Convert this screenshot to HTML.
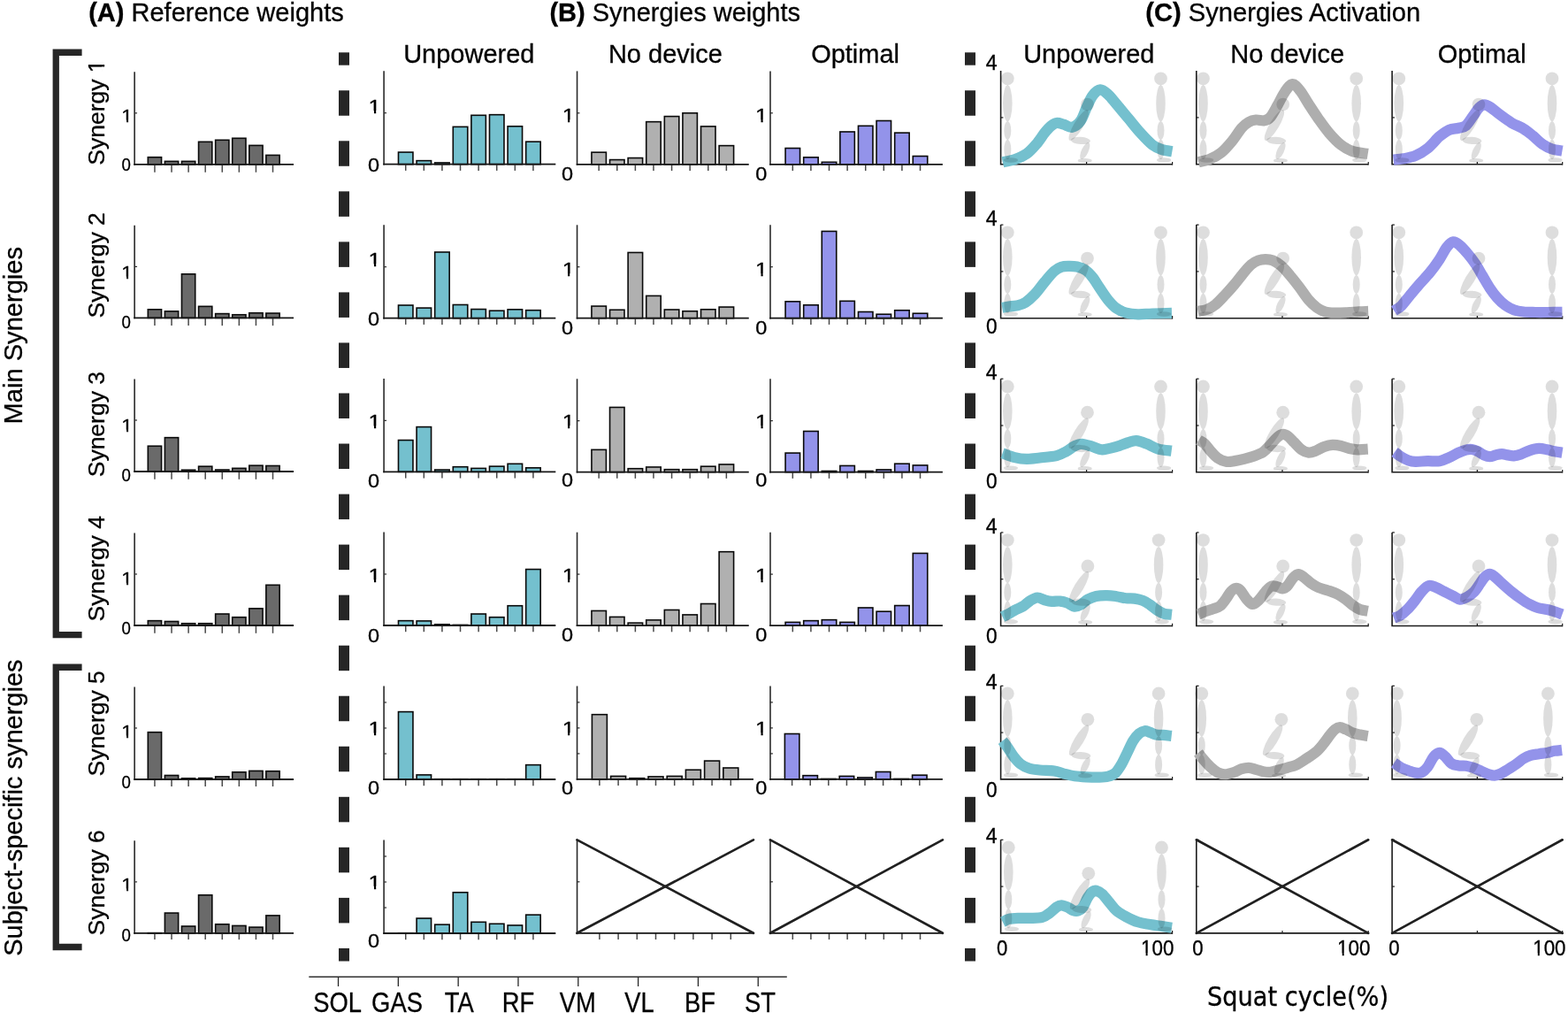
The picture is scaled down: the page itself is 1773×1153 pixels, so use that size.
<!DOCTYPE html>
<html lang="en">
<head>
<meta charset="utf-8">
<title>Synergies weights and activation</title>
<style>
html, body { margin: 0; padding: 0; background: #ffffff; }
body { width: 1773px; height: 1153px; overflow: hidden; }
svg { display: block; font-family: "Liberation Sans", sans-serif; fill: #000; }
text { stroke: #000; stroke-width: 0.3px; }
</style>
</head>
<body>
<svg width="1773" height="1153" viewBox="0 0 1773 1153">
<rect width="1773" height="1153" fill="#ffffff"/>
<text x="100.2" y="23.9" font-size="29.0"><tspan font-weight="bold">(A)</tspan> Reference weights</text>
<text x="621.4" y="23.9" font-size="29.0"><tspan font-weight="bold">(B)</tspan> Synergies weights</text>
<text x="1295.3" y="23.9" font-size="29.15"><tspan font-weight="bold">(C)</tspan> Synergies Activation</text>
<text x="530.3" y="71" font-size="29" text-anchor="middle" font-weight="normal" >Unpowered</text>
<text x="752.4" y="71" font-size="29" text-anchor="middle" font-weight="normal" >No device</text>
<text x="967.1" y="71" font-size="29" text-anchor="middle" font-weight="normal" >Optimal</text>
<text x="1231.3" y="71" font-size="29" text-anchor="middle" font-weight="normal" >Unpowered</text>
<text x="1455.7" y="71" font-size="29" text-anchor="middle" font-weight="normal" >No device</text>
<text x="1675.7" y="71" font-size="29" text-anchor="middle" font-weight="normal" >Optimal</text>
<path d="M92.6 55.5 H59.6 V721.3 H92.6 V713.9 H66.9 V62.9 H92.6 Z" fill="#262626"/>
<path d="M92.6 750.6 H59.6 V1074.2 H92.6 V1066.8 H66.9 V758 H92.6 Z" fill="#262626"/>
<text transform="translate(24.8 379.2) rotate(-90)" font-size="29.1" text-anchor="middle">Main Synergies</text>
<text transform="translate(24.9 913.1) rotate(-90)" font-size="29" text-anchor="middle">Subject-specific synergies</text>
<g transform="translate(118.2 186.7) rotate(-90)"><text font-size="26.5">Synergy <tspan x="104.57">1</tspan></text><g transform="translate(104.57 0)"><rect x="0.53" y="-2.98" width="6.13" height="5.58" fill="#fff"/><rect x="9.01" y="-2.98" width="5.56" height="5.58" fill="#fff"/></g></g>
<text transform="translate(118.2 359.5) rotate(-90)" font-size="26.5">Synergy 2</text>
<text transform="translate(118.2 539.3) rotate(-90)" font-size="26.5">Synergy 3</text>
<text transform="translate(118.2 702.4) rotate(-90)" font-size="26.5">Synergy 4</text>
<text transform="translate(118.2 877.5) rotate(-90)" font-size="26.5">Synergy 5</text>
<text transform="translate(118.2 1057.5) rotate(-90)" font-size="26.5">Synergy 6</text>
<rect x="383" y="59.3" width="12" height="14.4" fill="#262626"/>
<rect x="383" y="102.25" width="12" height="28.5" fill="#262626"/>
<rect x="383" y="159.29" width="12" height="28.5" fill="#262626"/>
<rect x="383" y="216.33" width="12" height="28.5" fill="#262626"/>
<rect x="383" y="273.37" width="12" height="28.5" fill="#262626"/>
<rect x="383" y="330.41" width="12" height="28.5" fill="#262626"/>
<rect x="383" y="387.45" width="12" height="28.5" fill="#262626"/>
<rect x="383" y="444.49" width="12" height="28.5" fill="#262626"/>
<rect x="383" y="501.53" width="12" height="28.5" fill="#262626"/>
<rect x="383" y="558.57" width="12" height="28.5" fill="#262626"/>
<rect x="383" y="615.61" width="12" height="28.5" fill="#262626"/>
<rect x="383" y="672.65" width="12" height="28.5" fill="#262626"/>
<rect x="383" y="729.69" width="12" height="28.5" fill="#262626"/>
<rect x="383" y="786.73" width="12" height="28.5" fill="#262626"/>
<rect x="383" y="843.77" width="12" height="28.5" fill="#262626"/>
<rect x="383" y="900.81" width="12" height="28.5" fill="#262626"/>
<rect x="383" y="957.85" width="12" height="28.5" fill="#262626"/>
<rect x="383" y="1014.89" width="12" height="28.5" fill="#262626"/>
<rect x="383" y="1071.93" width="12" height="14.57" fill="#262626"/>
<rect x="1091" y="59.3" width="12" height="14.4" fill="#262626"/>
<rect x="1091" y="102.25" width="12" height="28.5" fill="#262626"/>
<rect x="1091" y="159.29" width="12" height="28.5" fill="#262626"/>
<rect x="1091" y="216.33" width="12" height="28.5" fill="#262626"/>
<rect x="1091" y="273.37" width="12" height="28.5" fill="#262626"/>
<rect x="1091" y="330.41" width="12" height="28.5" fill="#262626"/>
<rect x="1091" y="387.45" width="12" height="28.5" fill="#262626"/>
<rect x="1091" y="444.49" width="12" height="28.5" fill="#262626"/>
<rect x="1091" y="501.53" width="12" height="28.5" fill="#262626"/>
<rect x="1091" y="558.57" width="12" height="28.5" fill="#262626"/>
<rect x="1091" y="615.61" width="12" height="28.5" fill="#262626"/>
<rect x="1091" y="672.65" width="12" height="28.5" fill="#262626"/>
<rect x="1091" y="729.69" width="12" height="28.5" fill="#262626"/>
<rect x="1091" y="786.73" width="12" height="28.5" fill="#262626"/>
<rect x="1091" y="843.77" width="12" height="28.5" fill="#262626"/>
<rect x="1091" y="900.81" width="12" height="28.5" fill="#262626"/>
<rect x="1091" y="957.85" width="12" height="28.5" fill="#262626"/>
<rect x="1091" y="1014.89" width="12" height="28.5" fill="#262626"/>
<rect x="1091" y="1071.93" width="12" height="14.57" fill="#262626"/>
<rect x="167.31" y="177.73" width="15.26" height="8.12" fill="#6a6a6a" stroke="#0a0a0a" stroke-width="1.6"/>
<rect x="186.39" y="182.37" width="15.26" height="3.48" fill="#6a6a6a" stroke="#0a0a0a" stroke-width="1.6"/>
<rect x="205.47" y="182.37" width="15.26" height="3.48" fill="#6a6a6a" stroke="#0a0a0a" stroke-width="1.6"/>
<rect x="224.55" y="160.33" width="15.26" height="25.52" fill="#6a6a6a" stroke="#0a0a0a" stroke-width="1.6"/>
<rect x="243.63" y="158.3" width="15.26" height="27.55" fill="#6a6a6a" stroke="#0a0a0a" stroke-width="1.6"/>
<rect x="262.71" y="156.27" width="15.26" height="29.58" fill="#6a6a6a" stroke="#0a0a0a" stroke-width="1.6"/>
<rect x="281.79" y="164.39" width="15.26" height="21.46" fill="#6a6a6a" stroke="#0a0a0a" stroke-width="1.6"/>
<rect x="300.87" y="175.41" width="15.26" height="10.44" fill="#6a6a6a" stroke="#0a0a0a" stroke-width="1.6"/>
<line x1="174.95" y1="185.85" x2="174.95" y2="194.75" stroke="#484848" stroke-width="1.5" />
<line x1="194.03" y1="185.85" x2="194.03" y2="194.75" stroke="#484848" stroke-width="1.5" />
<line x1="213.11" y1="185.85" x2="213.11" y2="194.75" stroke="#484848" stroke-width="1.5" />
<line x1="232.19" y1="185.85" x2="232.19" y2="194.75" stroke="#484848" stroke-width="1.5" />
<line x1="251.27" y1="185.85" x2="251.27" y2="194.75" stroke="#484848" stroke-width="1.5" />
<line x1="270.35" y1="185.85" x2="270.35" y2="194.75" stroke="#484848" stroke-width="1.5" />
<line x1="289.43" y1="185.85" x2="289.43" y2="194.75" stroke="#484848" stroke-width="1.5" />
<line x1="308.51" y1="185.85" x2="308.51" y2="194.75" stroke="#484848" stroke-width="1.5" />
<line x1="152.15" y1="81.25" x2="152.15" y2="186.65" stroke="#2a2a2a" stroke-width="1.6" />
<line x1="151.3" y1="185.85" x2="332.05" y2="185.85" stroke="#161616" stroke-width="1.8" />
<line x1="152.05" y1="127.85" x2="155.05" y2="127.85" stroke="#2a2a2a" stroke-width="1.2" />
<g transform="translate(137.37 138.15) scale(1.12 1)"><text font-size="20.3">1</text><rect x="0.41" y="-2.52" width="4.7" height="5.12" fill="#fff"/><rect x="6.9" y="-2.52" width="4.26" height="5.12" fill="#fff"/></g>
<text transform="translate(142.6 192.76) scale(0.93 1)" font-size="20.1" text-anchor="middle">0</text>
<rect x="167.31" y="349.83" width="15.26" height="9.57" fill="#6a6a6a" stroke="#0a0a0a" stroke-width="1.6"/>
<rect x="186.39" y="351.86" width="15.26" height="7.54" fill="#6a6a6a" stroke="#0a0a0a" stroke-width="1.6"/>
<rect x="205.47" y="309.81" width="15.26" height="49.59" fill="#6a6a6a" stroke="#0a0a0a" stroke-width="1.6"/>
<rect x="224.55" y="346.35" width="15.26" height="13.05" fill="#6a6a6a" stroke="#0a0a0a" stroke-width="1.6"/>
<rect x="243.63" y="354.59" width="15.26" height="4.81" fill="#6a6a6a" stroke="#0a0a0a" stroke-width="1.6"/>
<rect x="262.71" y="355.75" width="15.26" height="3.65" fill="#6a6a6a" stroke="#0a0a0a" stroke-width="1.6"/>
<rect x="281.79" y="353.77" width="15.26" height="5.63" fill="#6a6a6a" stroke="#0a0a0a" stroke-width="1.6"/>
<rect x="300.87" y="354.06" width="15.26" height="5.34" fill="#6a6a6a" stroke="#0a0a0a" stroke-width="1.6"/>
<line x1="174.95" y1="359.4" x2="174.95" y2="368.1" stroke="#484848" stroke-width="1.5" />
<line x1="194.03" y1="359.4" x2="194.03" y2="368.1" stroke="#484848" stroke-width="1.5" />
<line x1="213.11" y1="359.4" x2="213.11" y2="368.1" stroke="#484848" stroke-width="1.5" />
<line x1="232.19" y1="359.4" x2="232.19" y2="368.1" stroke="#484848" stroke-width="1.5" />
<line x1="251.27" y1="359.4" x2="251.27" y2="368.1" stroke="#484848" stroke-width="1.5" />
<line x1="270.35" y1="359.4" x2="270.35" y2="368.1" stroke="#484848" stroke-width="1.5" />
<line x1="289.43" y1="359.4" x2="289.43" y2="368.1" stroke="#484848" stroke-width="1.5" />
<line x1="308.51" y1="359.4" x2="308.51" y2="368.1" stroke="#484848" stroke-width="1.5" />
<line x1="152.15" y1="254.8" x2="152.15" y2="360.2" stroke="#2a2a2a" stroke-width="1.6" />
<line x1="151.3" y1="359.4" x2="332.05" y2="359.4" stroke="#161616" stroke-width="1.8" />
<line x1="152.05" y1="301.4" x2="155.05" y2="301.4" stroke="#2a2a2a" stroke-width="1.2" />
<g transform="translate(137.37 315.2) scale(1.12 1)"><text font-size="20.3">1</text><rect x="0.41" y="-2.52" width="4.7" height="5.12" fill="#fff"/><rect x="6.9" y="-2.52" width="4.26" height="5.12" fill="#fff"/></g>
<text transform="translate(142.6 370.81) scale(0.93 1)" font-size="20.1" text-anchor="middle">0</text>
<rect x="167.31" y="504.23" width="15.26" height="28.77" fill="#6a6a6a" stroke="#0a0a0a" stroke-width="1.6"/>
<rect x="186.39" y="494.66" width="15.26" height="38.34" fill="#6a6a6a" stroke="#0a0a0a" stroke-width="1.6"/>
<rect x="205.47" y="531.26" width="15.26" height="1.74" fill="#6a6a6a" stroke="#0a0a0a" stroke-width="1.6"/>
<rect x="224.55" y="527.2" width="15.26" height="5.8" fill="#6a6a6a" stroke="#0a0a0a" stroke-width="1.6"/>
<rect x="243.63" y="531.03" width="15.26" height="1.97" fill="#6a6a6a" stroke="#0a0a0a" stroke-width="1.6"/>
<rect x="262.71" y="529.35" width="15.26" height="3.65" fill="#6a6a6a" stroke="#0a0a0a" stroke-width="1.6"/>
<rect x="281.79" y="526.21" width="15.26" height="6.79" fill="#6a6a6a" stroke="#0a0a0a" stroke-width="1.6"/>
<rect x="300.87" y="526.5" width="15.26" height="6.5" fill="#6a6a6a" stroke="#0a0a0a" stroke-width="1.6"/>
<line x1="174.95" y1="533" x2="174.95" y2="541.8" stroke="#484848" stroke-width="1.5" />
<line x1="194.03" y1="533" x2="194.03" y2="541.8" stroke="#484848" stroke-width="1.5" />
<line x1="213.11" y1="533" x2="213.11" y2="541.8" stroke="#484848" stroke-width="1.5" />
<line x1="232.19" y1="533" x2="232.19" y2="541.8" stroke="#484848" stroke-width="1.5" />
<line x1="251.27" y1="533" x2="251.27" y2="541.8" stroke="#484848" stroke-width="1.5" />
<line x1="270.35" y1="533" x2="270.35" y2="541.8" stroke="#484848" stroke-width="1.5" />
<line x1="289.43" y1="533" x2="289.43" y2="541.8" stroke="#484848" stroke-width="1.5" />
<line x1="308.51" y1="533" x2="308.51" y2="541.8" stroke="#484848" stroke-width="1.5" />
<line x1="152.15" y1="428.4" x2="152.15" y2="533.8" stroke="#2a2a2a" stroke-width="1.6" />
<line x1="151.3" y1="533" x2="332.05" y2="533" stroke="#161616" stroke-width="1.8" />
<line x1="152.05" y1="475" x2="155.05" y2="475" stroke="#2a2a2a" stroke-width="1.2" />
<g transform="translate(137.37 488.2) scale(1.12 1)"><text font-size="20.3">1</text><rect x="0.41" y="-2.52" width="4.7" height="5.12" fill="#fff"/><rect x="6.9" y="-2.52" width="4.26" height="5.12" fill="#fff"/></g>
<text transform="translate(142.6 543.91) scale(0.93 1)" font-size="20.1" text-anchor="middle">0</text>
<rect x="167.31" y="701.66" width="15.26" height="5.34" fill="#6a6a6a" stroke="#0a0a0a" stroke-width="1.6"/>
<rect x="186.39" y="702.48" width="15.26" height="4.52" fill="#6a6a6a" stroke="#0a0a0a" stroke-width="1.6"/>
<rect x="205.47" y="704.74" width="15.26" height="2.26" fill="#6a6a6a" stroke="#0a0a0a" stroke-width="1.6"/>
<rect x="224.55" y="704.74" width="15.26" height="2.26" fill="#6a6a6a" stroke="#0a0a0a" stroke-width="1.6"/>
<rect x="243.63" y="694.01" width="15.26" height="12.99" fill="#6a6a6a" stroke="#0a0a0a" stroke-width="1.6"/>
<rect x="262.71" y="697.72" width="15.26" height="9.28" fill="#6a6a6a" stroke="#0a0a0a" stroke-width="1.6"/>
<rect x="281.79" y="687.86" width="15.26" height="19.14" fill="#6a6a6a" stroke="#0a0a0a" stroke-width="1.6"/>
<rect x="300.87" y="661.3" width="15.26" height="45.7" fill="#6a6a6a" stroke="#0a0a0a" stroke-width="1.6"/>
<line x1="174.95" y1="707" x2="174.95" y2="715.8" stroke="#484848" stroke-width="1.5" />
<line x1="194.03" y1="707" x2="194.03" y2="715.8" stroke="#484848" stroke-width="1.5" />
<line x1="213.11" y1="707" x2="213.11" y2="715.8" stroke="#484848" stroke-width="1.5" />
<line x1="232.19" y1="707" x2="232.19" y2="715.8" stroke="#484848" stroke-width="1.5" />
<line x1="251.27" y1="707" x2="251.27" y2="715.8" stroke="#484848" stroke-width="1.5" />
<line x1="270.35" y1="707" x2="270.35" y2="715.8" stroke="#484848" stroke-width="1.5" />
<line x1="289.43" y1="707" x2="289.43" y2="715.8" stroke="#484848" stroke-width="1.5" />
<line x1="308.51" y1="707" x2="308.51" y2="715.8" stroke="#484848" stroke-width="1.5" />
<line x1="152.15" y1="602.4" x2="152.15" y2="707.8" stroke="#2a2a2a" stroke-width="1.6" />
<line x1="151.3" y1="707" x2="332.05" y2="707" stroke="#161616" stroke-width="1.8" />
<line x1="152.05" y1="649" x2="155.05" y2="649" stroke="#2a2a2a" stroke-width="1.2" />
<g transform="translate(137.37 661.4) scale(1.12 1)"><text font-size="20.3">1</text><rect x="0.41" y="-2.52" width="4.7" height="5.12" fill="#fff"/><rect x="6.9" y="-2.52" width="4.26" height="5.12" fill="#fff"/></g>
<text transform="translate(142.6 717.21) scale(0.93 1)" font-size="20.1" text-anchor="middle">0</text>
<rect x="167.31" y="827.7" width="15.26" height="53.3" fill="#6a6a6a" stroke="#0a0a0a" stroke-width="1.6"/>
<rect x="186.39" y="876.48" width="15.26" height="4.52" fill="#6a6a6a" stroke="#0a0a0a" stroke-width="1.6"/>
<rect x="205.47" y="879.84" width="15.26" height="1.16" fill="#6a6a6a" stroke="#0a0a0a" stroke-width="1.6"/>
<rect x="224.55" y="879.61" width="15.26" height="1.39" fill="#6a6a6a" stroke="#0a0a0a" stroke-width="1.6"/>
<rect x="243.63" y="877.93" width="15.26" height="3.07" fill="#6a6a6a" stroke="#0a0a0a" stroke-width="1.6"/>
<rect x="262.71" y="872.82" width="15.26" height="8.18" fill="#6a6a6a" stroke="#0a0a0a" stroke-width="1.6"/>
<rect x="281.79" y="871.43" width="15.26" height="9.57" fill="#6a6a6a" stroke="#0a0a0a" stroke-width="1.6"/>
<rect x="300.87" y="871.72" width="15.26" height="9.28" fill="#6a6a6a" stroke="#0a0a0a" stroke-width="1.6"/>
<line x1="174.95" y1="881" x2="174.95" y2="889" stroke="#484848" stroke-width="1.5" />
<line x1="194.03" y1="881" x2="194.03" y2="889" stroke="#484848" stroke-width="1.5" />
<line x1="213.11" y1="881" x2="213.11" y2="889" stroke="#484848" stroke-width="1.5" />
<line x1="232.19" y1="881" x2="232.19" y2="889" stroke="#484848" stroke-width="1.5" />
<line x1="251.27" y1="881" x2="251.27" y2="889" stroke="#484848" stroke-width="1.5" />
<line x1="270.35" y1="881" x2="270.35" y2="889" stroke="#484848" stroke-width="1.5" />
<line x1="289.43" y1="881" x2="289.43" y2="889" stroke="#484848" stroke-width="1.5" />
<line x1="308.51" y1="881" x2="308.51" y2="889" stroke="#484848" stroke-width="1.5" />
<line x1="152.15" y1="776.4" x2="152.15" y2="881.8" stroke="#2a2a2a" stroke-width="1.6" />
<line x1="151.3" y1="881" x2="332.05" y2="881" stroke="#161616" stroke-width="1.8" />
<line x1="152.05" y1="823" x2="155.05" y2="823" stroke="#2a2a2a" stroke-width="1.2" />
<g transform="translate(137.37 834.1) scale(1.12 1)"><text font-size="20.3">1</text><rect x="0.41" y="-2.52" width="4.7" height="5.12" fill="#fff"/><rect x="6.9" y="-2.52" width="4.26" height="5.12" fill="#fff"/></g>
<text transform="translate(142.6 890.81) scale(0.93 1)" font-size="20.1" text-anchor="middle">0</text>
<rect x="167.31" y="1054.6" width="15.26" height="0.3" fill="#6a6a6a" stroke="#0a0a0a" stroke-width="1.6"/>
<rect x="186.39" y="1032.05" width="15.26" height="22.85" fill="#6a6a6a" stroke="#0a0a0a" stroke-width="1.6"/>
<rect x="205.47" y="1047.01" width="15.26" height="7.89" fill="#6a6a6a" stroke="#0a0a0a" stroke-width="1.6"/>
<rect x="224.55" y="1011.75" width="15.26" height="43.15" fill="#6a6a6a" stroke="#0a0a0a" stroke-width="1.6"/>
<rect x="243.63" y="1044.75" width="15.26" height="10.15" fill="#6a6a6a" stroke="#0a0a0a" stroke-width="1.6"/>
<rect x="262.71" y="1046.43" width="15.26" height="8.47" fill="#6a6a6a" stroke="#0a0a0a" stroke-width="1.6"/>
<rect x="281.79" y="1048.11" width="15.26" height="6.79" fill="#6a6a6a" stroke="#0a0a0a" stroke-width="1.6"/>
<rect x="300.87" y="1034.89" width="15.26" height="20.01" fill="#6a6a6a" stroke="#0a0a0a" stroke-width="1.6"/>
<line x1="174.95" y1="1054.9" x2="174.95" y2="1062.1" stroke="#484848" stroke-width="1.5" />
<line x1="194.03" y1="1054.9" x2="194.03" y2="1062.1" stroke="#484848" stroke-width="1.5" />
<line x1="213.11" y1="1054.9" x2="213.11" y2="1062.1" stroke="#484848" stroke-width="1.5" />
<line x1="232.19" y1="1054.9" x2="232.19" y2="1062.1" stroke="#484848" stroke-width="1.5" />
<line x1="251.27" y1="1054.9" x2="251.27" y2="1062.1" stroke="#484848" stroke-width="1.5" />
<line x1="270.35" y1="1054.9" x2="270.35" y2="1062.1" stroke="#484848" stroke-width="1.5" />
<line x1="289.43" y1="1054.9" x2="289.43" y2="1062.1" stroke="#484848" stroke-width="1.5" />
<line x1="308.51" y1="1054.9" x2="308.51" y2="1062.1" stroke="#484848" stroke-width="1.5" />
<line x1="152.15" y1="950.3" x2="152.15" y2="1055.7" stroke="#2a2a2a" stroke-width="1.6" />
<line x1="151.3" y1="1054.9" x2="332.05" y2="1054.9" stroke="#161616" stroke-width="1.8" />
<line x1="152.05" y1="996.9" x2="155.05" y2="996.9" stroke="#2a2a2a" stroke-width="1.2" />
<g transform="translate(137.37 1007) scale(1.12 1)"><text font-size="20.3">1</text><rect x="0.41" y="-2.52" width="4.7" height="5.12" fill="#fff"/><rect x="6.9" y="-2.52" width="4.26" height="5.12" fill="#fff"/></g>
<text transform="translate(142.6 1063.71) scale(0.93 1)" font-size="20.1" text-anchor="middle">0</text>
<rect x="450.48" y="172.07" width="16.48" height="13.63" fill="#74c0ce" stroke="#0a0a0a" stroke-width="1.6"/>
<rect x="471.08" y="181.64" width="16.48" height="4.06" fill="#74c0ce" stroke="#0a0a0a" stroke-width="1.6"/>
<rect x="491.68" y="183.96" width="16.48" height="1.74" fill="#74c0ce" stroke="#0a0a0a" stroke-width="1.6"/>
<rect x="512.28" y="143.36" width="16.48" height="42.34" fill="#74c0ce" stroke="#0a0a0a" stroke-width="1.6"/>
<rect x="532.88" y="130.31" width="16.48" height="55.39" fill="#74c0ce" stroke="#0a0a0a" stroke-width="1.6"/>
<rect x="553.48" y="129.67" width="16.48" height="56.03" fill="#74c0ce" stroke="#0a0a0a" stroke-width="1.6"/>
<rect x="574.08" y="142.78" width="16.48" height="42.92" fill="#74c0ce" stroke="#0a0a0a" stroke-width="1.6"/>
<rect x="594.68" y="160.18" width="16.48" height="25.52" fill="#74c0ce" stroke="#0a0a0a" stroke-width="1.6"/>
<line x1="458.72" y1="185.7" x2="458.72" y2="192.9" stroke="#484848" stroke-width="1.5" />
<line x1="479.32" y1="185.7" x2="479.32" y2="192.9" stroke="#484848" stroke-width="1.5" />
<line x1="499.92" y1="185.7" x2="499.92" y2="192.9" stroke="#484848" stroke-width="1.5" />
<line x1="520.52" y1="185.7" x2="520.52" y2="192.9" stroke="#484848" stroke-width="1.5" />
<line x1="541.12" y1="185.7" x2="541.12" y2="192.9" stroke="#484848" stroke-width="1.5" />
<line x1="561.72" y1="185.7" x2="561.72" y2="192.9" stroke="#484848" stroke-width="1.5" />
<line x1="582.32" y1="185.7" x2="582.32" y2="192.9" stroke="#484848" stroke-width="1.5" />
<line x1="602.92" y1="185.7" x2="602.92" y2="192.9" stroke="#484848" stroke-width="1.5" />
<line x1="434.1" y1="80.3" x2="434.1" y2="186.5" stroke="#2a2a2a" stroke-width="1.6" />
<line x1="433.25" y1="185.7" x2="628.3" y2="185.7" stroke="#161616" stroke-width="1.8" />
<line x1="434" y1="127.7" x2="437" y2="127.7" stroke="#2a2a2a" stroke-width="1.2" />
<g transform="translate(416.6 127.9) scale(1.12 1)"><text font-size="22.6">1</text><rect x="0.45" y="-2.69" width="5.23" height="5.29" fill="#fff"/><rect x="7.68" y="-2.69" width="4.75" height="5.29" fill="#fff"/></g>
<text transform="translate(422.5 194.47) scale(1.04 1)" font-size="22.6" text-anchor="middle">0</text>
<rect x="450.48" y="345.03" width="16.48" height="14.67" fill="#74c0ce" stroke="#0a0a0a" stroke-width="1.6"/>
<rect x="471.08" y="348.1" width="16.48" height="11.6" fill="#74c0ce" stroke="#0a0a0a" stroke-width="1.6"/>
<rect x="491.68" y="285" width="16.48" height="74.7" fill="#74c0ce" stroke="#0a0a0a" stroke-width="1.6"/>
<rect x="512.28" y="344.5" width="16.48" height="15.2" fill="#74c0ce" stroke="#0a0a0a" stroke-width="1.6"/>
<rect x="532.88" y="349.55" width="16.48" height="10.15" fill="#74c0ce" stroke="#0a0a0a" stroke-width="1.6"/>
<rect x="553.48" y="351.23" width="16.48" height="8.47" fill="#74c0ce" stroke="#0a0a0a" stroke-width="1.6"/>
<rect x="574.08" y="349.84" width="16.48" height="9.86" fill="#74c0ce" stroke="#0a0a0a" stroke-width="1.6"/>
<rect x="594.68" y="350.71" width="16.48" height="8.99" fill="#74c0ce" stroke="#0a0a0a" stroke-width="1.6"/>
<line x1="458.72" y1="359.7" x2="458.72" y2="366.9" stroke="#484848" stroke-width="1.5" />
<line x1="479.32" y1="359.7" x2="479.32" y2="366.9" stroke="#484848" stroke-width="1.5" />
<line x1="499.92" y1="359.7" x2="499.92" y2="366.9" stroke="#484848" stroke-width="1.5" />
<line x1="520.52" y1="359.7" x2="520.52" y2="366.9" stroke="#484848" stroke-width="1.5" />
<line x1="541.12" y1="359.7" x2="541.12" y2="366.9" stroke="#484848" stroke-width="1.5" />
<line x1="561.72" y1="359.7" x2="561.72" y2="366.9" stroke="#484848" stroke-width="1.5" />
<line x1="582.32" y1="359.7" x2="582.32" y2="366.9" stroke="#484848" stroke-width="1.5" />
<line x1="602.92" y1="359.7" x2="602.92" y2="366.9" stroke="#484848" stroke-width="1.5" />
<line x1="434.1" y1="254.3" x2="434.1" y2="360.5" stroke="#2a2a2a" stroke-width="1.6" />
<line x1="433.25" y1="359.7" x2="628.3" y2="359.7" stroke="#161616" stroke-width="1.8" />
<line x1="434" y1="301.7" x2="437" y2="301.7" stroke="#2a2a2a" stroke-width="1.2" />
<g transform="translate(416.6 301.1) scale(1.12 1)"><text font-size="22.6">1</text><rect x="0.45" y="-2.69" width="5.23" height="5.29" fill="#fff"/><rect x="7.68" y="-2.69" width="4.75" height="5.29" fill="#fff"/></g>
<text transform="translate(422.5 367.57) scale(1.04 1)" font-size="22.6" text-anchor="middle">0</text>
<rect x="450.48" y="497.56" width="16.48" height="35.79" fill="#74c0ce" stroke="#0a0a0a" stroke-width="1.6"/>
<rect x="471.08" y="482.6" width="16.48" height="50.75" fill="#74c0ce" stroke="#0a0a0a" stroke-width="1.6"/>
<rect x="491.68" y="531.03" width="16.48" height="2.32" fill="#74c0ce" stroke="#0a0a0a" stroke-width="1.6"/>
<rect x="512.28" y="527.72" width="16.48" height="5.63" fill="#74c0ce" stroke="#0a0a0a" stroke-width="1.6"/>
<rect x="532.88" y="529.41" width="16.48" height="3.94" fill="#74c0ce" stroke="#0a0a0a" stroke-width="1.6"/>
<rect x="553.48" y="527.14" width="16.48" height="6.21" fill="#74c0ce" stroke="#0a0a0a" stroke-width="1.6"/>
<rect x="574.08" y="524.3" width="16.48" height="9.05" fill="#74c0ce" stroke="#0a0a0a" stroke-width="1.6"/>
<rect x="594.68" y="528.83" width="16.48" height="4.52" fill="#74c0ce" stroke="#0a0a0a" stroke-width="1.6"/>
<line x1="458.72" y1="533.35" x2="458.72" y2="540.55" stroke="#484848" stroke-width="1.5" />
<line x1="479.32" y1="533.35" x2="479.32" y2="540.55" stroke="#484848" stroke-width="1.5" />
<line x1="499.92" y1="533.35" x2="499.92" y2="540.55" stroke="#484848" stroke-width="1.5" />
<line x1="520.52" y1="533.35" x2="520.52" y2="540.55" stroke="#484848" stroke-width="1.5" />
<line x1="541.12" y1="533.35" x2="541.12" y2="540.55" stroke="#484848" stroke-width="1.5" />
<line x1="561.72" y1="533.35" x2="561.72" y2="540.55" stroke="#484848" stroke-width="1.5" />
<line x1="582.32" y1="533.35" x2="582.32" y2="540.55" stroke="#484848" stroke-width="1.5" />
<line x1="602.92" y1="533.35" x2="602.92" y2="540.55" stroke="#484848" stroke-width="1.5" />
<line x1="434.1" y1="427.95" x2="434.1" y2="534.15" stroke="#2a2a2a" stroke-width="1.6" />
<line x1="433.25" y1="533.35" x2="628.3" y2="533.35" stroke="#161616" stroke-width="1.8" />
<line x1="434" y1="475.35" x2="437" y2="475.35" stroke="#2a2a2a" stroke-width="1.2" />
<g transform="translate(416.6 484.15) scale(1.12 1)"><text font-size="22.6">1</text><rect x="0.45" y="-2.69" width="5.23" height="5.29" fill="#fff"/><rect x="7.68" y="-2.69" width="4.75" height="5.29" fill="#fff"/></g>
<text transform="translate(422.5 550.82) scale(1.04 1)" font-size="22.6" text-anchor="middle">0</text>
<rect x="450.48" y="701.66" width="16.48" height="5.34" fill="#74c0ce" stroke="#0a0a0a" stroke-width="1.6"/>
<rect x="471.08" y="701.92" width="16.48" height="5.07" fill="#74c0ce" stroke="#0a0a0a" stroke-width="1.6"/>
<rect x="491.68" y="705.84" width="16.48" height="1.16" fill="#74c0ce" stroke="#0a0a0a" stroke-width="1.6"/>
<rect x="512.28" y="706.42" width="16.48" height="0.58" fill="#74c0ce" stroke="#0a0a0a" stroke-width="1.6"/>
<rect x="532.88" y="694.01" width="16.48" height="12.99" fill="#74c0ce" stroke="#0a0a0a" stroke-width="1.6"/>
<rect x="553.48" y="697.72" width="16.48" height="9.28" fill="#74c0ce" stroke="#0a0a0a" stroke-width="1.6"/>
<rect x="574.08" y="684.73" width="16.48" height="22.27" fill="#74c0ce" stroke="#0a0a0a" stroke-width="1.6"/>
<rect x="594.68" y="643.55" width="16.48" height="63.45" fill="#74c0ce" stroke="#0a0a0a" stroke-width="1.6"/>
<line x1="458.72" y1="707" x2="458.72" y2="714.2" stroke="#484848" stroke-width="1.5" />
<line x1="479.32" y1="707" x2="479.32" y2="714.2" stroke="#484848" stroke-width="1.5" />
<line x1="499.92" y1="707" x2="499.92" y2="714.2" stroke="#484848" stroke-width="1.5" />
<line x1="520.52" y1="707" x2="520.52" y2="714.2" stroke="#484848" stroke-width="1.5" />
<line x1="541.12" y1="707" x2="541.12" y2="714.2" stroke="#484848" stroke-width="1.5" />
<line x1="561.72" y1="707" x2="561.72" y2="714.2" stroke="#484848" stroke-width="1.5" />
<line x1="582.32" y1="707" x2="582.32" y2="714.2" stroke="#484848" stroke-width="1.5" />
<line x1="602.92" y1="707" x2="602.92" y2="714.2" stroke="#484848" stroke-width="1.5" />
<line x1="434.1" y1="601.6" x2="434.1" y2="707.8" stroke="#2a2a2a" stroke-width="1.6" />
<line x1="433.25" y1="707" x2="628.3" y2="707" stroke="#161616" stroke-width="1.8" />
<line x1="434" y1="649" x2="437" y2="649" stroke="#2a2a2a" stroke-width="1.2" />
<g transform="translate(416.6 658.1) scale(1.12 1)"><text font-size="22.6">1</text><rect x="0.45" y="-2.69" width="5.23" height="5.29" fill="#fff"/><rect x="7.68" y="-2.69" width="4.75" height="5.29" fill="#fff"/></g>
<text transform="translate(422.5 725.57) scale(1.04 1)" font-size="22.6" text-anchor="middle">0</text>
<rect x="450.48" y="804.61" width="16.48" height="76.39" fill="#74c0ce" stroke="#0a0a0a" stroke-width="1.6"/>
<rect x="471.08" y="875.92" width="16.48" height="5.07" fill="#74c0ce" stroke="#0a0a0a" stroke-width="1.6"/>
<rect x="491.68" y="880.7" width="16.48" height="0.3" fill="#74c0ce" stroke="#0a0a0a" stroke-width="1.6"/>
<rect x="512.28" y="880.7" width="16.48" height="0.3" fill="#74c0ce" stroke="#0a0a0a" stroke-width="1.6"/>
<rect x="532.88" y="880.7" width="16.48" height="0.3" fill="#74c0ce" stroke="#0a0a0a" stroke-width="1.6"/>
<rect x="553.48" y="880.7" width="16.48" height="0.3" fill="#74c0ce" stroke="#0a0a0a" stroke-width="1.6"/>
<rect x="574.08" y="880.7" width="16.48" height="0.3" fill="#74c0ce" stroke="#0a0a0a" stroke-width="1.6"/>
<rect x="594.68" y="864.64" width="16.48" height="16.36" fill="#74c0ce" stroke="#0a0a0a" stroke-width="1.6"/>
<line x1="458.72" y1="881" x2="458.72" y2="888.2" stroke="#484848" stroke-width="1.5" />
<line x1="479.32" y1="881" x2="479.32" y2="888.2" stroke="#484848" stroke-width="1.5" />
<line x1="499.92" y1="881" x2="499.92" y2="888.2" stroke="#484848" stroke-width="1.5" />
<line x1="520.52" y1="881" x2="520.52" y2="888.2" stroke="#484848" stroke-width="1.5" />
<line x1="541.12" y1="881" x2="541.12" y2="888.2" stroke="#484848" stroke-width="1.5" />
<line x1="561.72" y1="881" x2="561.72" y2="888.2" stroke="#484848" stroke-width="1.5" />
<line x1="582.32" y1="881" x2="582.32" y2="888.2" stroke="#484848" stroke-width="1.5" />
<line x1="602.92" y1="881" x2="602.92" y2="888.2" stroke="#484848" stroke-width="1.5" />
<line x1="434.1" y1="775.6" x2="434.1" y2="881.8" stroke="#2a2a2a" stroke-width="1.6" />
<line x1="433.25" y1="881" x2="628.3" y2="881" stroke="#161616" stroke-width="1.8" />
<line x1="434" y1="852" x2="437" y2="852" stroke="#2a2a2a" stroke-width="1.2" />
<line x1="434" y1="823" x2="437" y2="823" stroke="#2a2a2a" stroke-width="1.2" />
<line x1="434" y1="794" x2="437" y2="794" stroke="#2a2a2a" stroke-width="1.2" />
<g transform="translate(416.6 831.3) scale(1.12 1)"><text font-size="22.6">1</text><rect x="0.45" y="-2.69" width="5.23" height="5.29" fill="#fff"/><rect x="7.68" y="-2.69" width="4.75" height="5.29" fill="#fff"/></g>
<text transform="translate(422.5 897.57) scale(1.04 1)" font-size="22.6" text-anchor="middle">0</text>
<rect x="450.48" y="1054.7" width="16.48" height="0.3" fill="#74c0ce" stroke="#0a0a0a" stroke-width="1.6"/>
<rect x="471.08" y="1038.06" width="16.48" height="16.94" fill="#74c0ce" stroke="#0a0a0a" stroke-width="1.6"/>
<rect x="491.68" y="1045.14" width="16.48" height="9.86" fill="#74c0ce" stroke="#0a0a0a" stroke-width="1.6"/>
<rect x="512.28" y="1008.77" width="16.48" height="46.23" fill="#74c0ce" stroke="#0a0a0a" stroke-width="1.6"/>
<rect x="532.88" y="1042.3" width="16.48" height="12.7" fill="#74c0ce" stroke="#0a0a0a" stroke-width="1.6"/>
<rect x="553.48" y="1044.27" width="16.48" height="10.73" fill="#74c0ce" stroke="#0a0a0a" stroke-width="1.6"/>
<rect x="574.08" y="1045.95" width="16.48" height="9.05" fill="#74c0ce" stroke="#0a0a0a" stroke-width="1.6"/>
<rect x="594.68" y="1034.12" width="16.48" height="20.88" fill="#74c0ce" stroke="#0a0a0a" stroke-width="1.6"/>
<line x1="458.72" y1="1055" x2="458.72" y2="1062.2" stroke="#484848" stroke-width="1.5" />
<line x1="479.32" y1="1055" x2="479.32" y2="1062.2" stroke="#484848" stroke-width="1.5" />
<line x1="499.92" y1="1055" x2="499.92" y2="1062.2" stroke="#484848" stroke-width="1.5" />
<line x1="520.52" y1="1055" x2="520.52" y2="1062.2" stroke="#484848" stroke-width="1.5" />
<line x1="541.12" y1="1055" x2="541.12" y2="1062.2" stroke="#484848" stroke-width="1.5" />
<line x1="561.72" y1="1055" x2="561.72" y2="1062.2" stroke="#484848" stroke-width="1.5" />
<line x1="582.32" y1="1055" x2="582.32" y2="1062.2" stroke="#484848" stroke-width="1.5" />
<line x1="602.92" y1="1055" x2="602.92" y2="1062.2" stroke="#484848" stroke-width="1.5" />
<line x1="434.1" y1="949.6" x2="434.1" y2="1055.8" stroke="#2a2a2a" stroke-width="1.6" />
<line x1="433.25" y1="1055" x2="628.3" y2="1055" stroke="#161616" stroke-width="1.8" />
<line x1="434" y1="1026" x2="437" y2="1026" stroke="#2a2a2a" stroke-width="1.2" />
<line x1="434" y1="997" x2="437" y2="997" stroke="#2a2a2a" stroke-width="1.2" />
<line x1="434" y1="968" x2="437" y2="968" stroke="#2a2a2a" stroke-width="1.2" />
<g transform="translate(416.6 1004.5) scale(1.12 1)"><text font-size="22.6">1</text><rect x="0.45" y="-2.69" width="5.23" height="5.29" fill="#fff"/><rect x="7.68" y="-2.69" width="4.75" height="5.29" fill="#fff"/></g>
<text transform="translate(422.5 1070.87) scale(1.04 1)" font-size="22.6" text-anchor="middle">0</text>
<rect x="668.93" y="172.17" width="16.48" height="13.63" fill="#b0b0b0" stroke="#0a0a0a" stroke-width="1.6"/>
<rect x="689.53" y="180.58" width="16.48" height="5.22" fill="#b0b0b0" stroke="#0a0a0a" stroke-width="1.6"/>
<rect x="710.13" y="178.55" width="16.48" height="7.25" fill="#b0b0b0" stroke="#0a0a0a" stroke-width="1.6"/>
<rect x="730.73" y="137.66" width="16.48" height="48.14" fill="#b0b0b0" stroke="#0a0a0a" stroke-width="1.6"/>
<rect x="751.33" y="131.57" width="16.48" height="54.23" fill="#b0b0b0" stroke="#0a0a0a" stroke-width="1.6"/>
<rect x="771.93" y="127.8" width="16.48" height="58" fill="#b0b0b0" stroke="#0a0a0a" stroke-width="1.6"/>
<rect x="792.53" y="142.88" width="16.48" height="42.92" fill="#b0b0b0" stroke="#0a0a0a" stroke-width="1.6"/>
<rect x="813.13" y="164.63" width="16.48" height="21.17" fill="#b0b0b0" stroke="#0a0a0a" stroke-width="1.6"/>
<line x1="677.17" y1="185.8" x2="677.17" y2="193" stroke="#484848" stroke-width="1.5" />
<line x1="697.77" y1="185.8" x2="697.77" y2="193" stroke="#484848" stroke-width="1.5" />
<line x1="718.37" y1="185.8" x2="718.37" y2="193" stroke="#484848" stroke-width="1.5" />
<line x1="738.97" y1="185.8" x2="738.97" y2="193" stroke="#484848" stroke-width="1.5" />
<line x1="759.57" y1="185.8" x2="759.57" y2="193" stroke="#484848" stroke-width="1.5" />
<line x1="780.17" y1="185.8" x2="780.17" y2="193" stroke="#484848" stroke-width="1.5" />
<line x1="800.77" y1="185.8" x2="800.77" y2="193" stroke="#484848" stroke-width="1.5" />
<line x1="821.37" y1="185.8" x2="821.37" y2="193" stroke="#484848" stroke-width="1.5" />
<line x1="652.55" y1="80.4" x2="652.55" y2="186.6" stroke="#2a2a2a" stroke-width="1.6" />
<line x1="651.7" y1="185.8" x2="846.75" y2="185.8" stroke="#161616" stroke-width="1.8" />
<line x1="652.45" y1="127.8" x2="655.45" y2="127.8" stroke="#2a2a2a" stroke-width="1.2" />
<g transform="translate(635.65 138.1) scale(1.12 1)"><text font-size="22.6">1</text><rect x="0.45" y="-2.69" width="5.23" height="5.29" fill="#fff"/><rect x="7.68" y="-2.69" width="4.75" height="5.29" fill="#fff"/></g>
<text transform="translate(641.55 204.27) scale(1.04 1)" font-size="22.6" text-anchor="middle">0</text>
<rect x="668.93" y="346.07" width="16.48" height="13.63" fill="#b0b0b0" stroke="#0a0a0a" stroke-width="1.6"/>
<rect x="689.53" y="350.25" width="16.48" height="9.45" fill="#b0b0b0" stroke="#0a0a0a" stroke-width="1.6"/>
<rect x="710.13" y="285.46" width="16.48" height="74.24" fill="#b0b0b0" stroke="#0a0a0a" stroke-width="1.6"/>
<rect x="730.73" y="334.41" width="16.48" height="25.29" fill="#b0b0b0" stroke="#0a0a0a" stroke-width="1.6"/>
<rect x="751.33" y="350.01" width="16.48" height="9.69" fill="#b0b0b0" stroke="#0a0a0a" stroke-width="1.6"/>
<rect x="771.93" y="351.75" width="16.48" height="7.95" fill="#b0b0b0" stroke="#0a0a0a" stroke-width="1.6"/>
<rect x="792.53" y="349.78" width="16.48" height="9.92" fill="#b0b0b0" stroke="#0a0a0a" stroke-width="1.6"/>
<rect x="813.13" y="347.06" width="16.48" height="12.64" fill="#b0b0b0" stroke="#0a0a0a" stroke-width="1.6"/>
<line x1="677.17" y1="359.7" x2="677.17" y2="366.9" stroke="#484848" stroke-width="1.5" />
<line x1="697.77" y1="359.7" x2="697.77" y2="366.9" stroke="#484848" stroke-width="1.5" />
<line x1="718.37" y1="359.7" x2="718.37" y2="366.9" stroke="#484848" stroke-width="1.5" />
<line x1="738.97" y1="359.7" x2="738.97" y2="366.9" stroke="#484848" stroke-width="1.5" />
<line x1="759.57" y1="359.7" x2="759.57" y2="366.9" stroke="#484848" stroke-width="1.5" />
<line x1="780.17" y1="359.7" x2="780.17" y2="366.9" stroke="#484848" stroke-width="1.5" />
<line x1="800.77" y1="359.7" x2="800.77" y2="366.9" stroke="#484848" stroke-width="1.5" />
<line x1="821.37" y1="359.7" x2="821.37" y2="366.9" stroke="#484848" stroke-width="1.5" />
<line x1="652.55" y1="254.3" x2="652.55" y2="360.5" stroke="#2a2a2a" stroke-width="1.6" />
<line x1="651.7" y1="359.7" x2="846.75" y2="359.7" stroke="#161616" stroke-width="1.8" />
<line x1="652.45" y1="301.7" x2="655.45" y2="301.7" stroke="#2a2a2a" stroke-width="1.2" />
<g transform="translate(635.65 312) scale(1.12 1)"><text font-size="22.6">1</text><rect x="0.45" y="-2.69" width="5.23" height="5.29" fill="#fff"/><rect x="7.68" y="-2.69" width="4.75" height="5.29" fill="#fff"/></g>
<text transform="translate(641.55 378.17) scale(1.04 1)" font-size="22.6" text-anchor="middle">0</text>
<rect x="668.93" y="508.36" width="16.48" height="25.29" fill="#b0b0b0" stroke="#0a0a0a" stroke-width="1.6"/>
<rect x="689.53" y="460.45" width="16.48" height="73.2" fill="#b0b0b0" stroke="#0a0a0a" stroke-width="1.6"/>
<rect x="710.13" y="529.71" width="16.48" height="3.94" fill="#b0b0b0" stroke="#0a0a0a" stroke-width="1.6"/>
<rect x="730.73" y="527.97" width="16.48" height="5.68" fill="#b0b0b0" stroke="#0a0a0a" stroke-width="1.6"/>
<rect x="751.33" y="530.69" width="16.48" height="2.96" fill="#b0b0b0" stroke="#0a0a0a" stroke-width="1.6"/>
<rect x="771.93" y="530.69" width="16.48" height="2.96" fill="#b0b0b0" stroke="#0a0a0a" stroke-width="1.6"/>
<rect x="792.53" y="527.21" width="16.48" height="6.44" fill="#b0b0b0" stroke="#0a0a0a" stroke-width="1.6"/>
<rect x="813.13" y="524.95" width="16.48" height="8.7" fill="#b0b0b0" stroke="#0a0a0a" stroke-width="1.6"/>
<line x1="677.17" y1="533.65" x2="677.17" y2="540.85" stroke="#484848" stroke-width="1.5" />
<line x1="697.77" y1="533.65" x2="697.77" y2="540.85" stroke="#484848" stroke-width="1.5" />
<line x1="718.37" y1="533.65" x2="718.37" y2="540.85" stroke="#484848" stroke-width="1.5" />
<line x1="738.97" y1="533.65" x2="738.97" y2="540.85" stroke="#484848" stroke-width="1.5" />
<line x1="759.57" y1="533.65" x2="759.57" y2="540.85" stroke="#484848" stroke-width="1.5" />
<line x1="780.17" y1="533.65" x2="780.17" y2="540.85" stroke="#484848" stroke-width="1.5" />
<line x1="800.77" y1="533.65" x2="800.77" y2="540.85" stroke="#484848" stroke-width="1.5" />
<line x1="821.37" y1="533.65" x2="821.37" y2="540.85" stroke="#484848" stroke-width="1.5" />
<line x1="652.55" y1="428.25" x2="652.55" y2="534.45" stroke="#2a2a2a" stroke-width="1.6" />
<line x1="651.7" y1="533.65" x2="846.75" y2="533.65" stroke="#161616" stroke-width="1.8" />
<line x1="652.45" y1="475.65" x2="655.45" y2="475.65" stroke="#2a2a2a" stroke-width="1.2" />
<g transform="translate(635.65 483.95) scale(1.12 1)"><text font-size="22.6">1</text><rect x="0.45" y="-2.69" width="5.23" height="5.29" fill="#fff"/><rect x="7.68" y="-2.69" width="4.75" height="5.29" fill="#fff"/></g>
<text transform="translate(641.55 550.22) scale(1.04 1)" font-size="22.6" text-anchor="middle">0</text>
<rect x="668.93" y="690.45" width="16.48" height="16.65" fill="#b0b0b0" stroke="#0a0a0a" stroke-width="1.6"/>
<rect x="689.53" y="697.41" width="16.48" height="9.69" fill="#b0b0b0" stroke="#0a0a0a" stroke-width="1.6"/>
<rect x="710.13" y="704.14" width="16.48" height="2.96" fill="#b0b0b0" stroke="#0a0a0a" stroke-width="1.6"/>
<rect x="730.73" y="700.89" width="16.48" height="6.21" fill="#b0b0b0" stroke="#0a0a0a" stroke-width="1.6"/>
<rect x="751.33" y="689.47" width="16.48" height="17.63" fill="#b0b0b0" stroke="#0a0a0a" stroke-width="1.6"/>
<rect x="771.93" y="694.92" width="16.48" height="12.18" fill="#b0b0b0" stroke="#0a0a0a" stroke-width="1.6"/>
<rect x="792.53" y="682.51" width="16.48" height="24.59" fill="#b0b0b0" stroke="#0a0a0a" stroke-width="1.6"/>
<rect x="813.13" y="623.7" width="16.48" height="83.4" fill="#b0b0b0" stroke="#0a0a0a" stroke-width="1.6"/>
<line x1="677.17" y1="707.1" x2="677.17" y2="714.3" stroke="#484848" stroke-width="1.5" />
<line x1="697.77" y1="707.1" x2="697.77" y2="714.3" stroke="#484848" stroke-width="1.5" />
<line x1="718.37" y1="707.1" x2="718.37" y2="714.3" stroke="#484848" stroke-width="1.5" />
<line x1="738.97" y1="707.1" x2="738.97" y2="714.3" stroke="#484848" stroke-width="1.5" />
<line x1="759.57" y1="707.1" x2="759.57" y2="714.3" stroke="#484848" stroke-width="1.5" />
<line x1="780.17" y1="707.1" x2="780.17" y2="714.3" stroke="#484848" stroke-width="1.5" />
<line x1="800.77" y1="707.1" x2="800.77" y2="714.3" stroke="#484848" stroke-width="1.5" />
<line x1="821.37" y1="707.1" x2="821.37" y2="714.3" stroke="#484848" stroke-width="1.5" />
<line x1="652.55" y1="601.7" x2="652.55" y2="707.9" stroke="#2a2a2a" stroke-width="1.6" />
<line x1="651.7" y1="707.1" x2="846.75" y2="707.1" stroke="#161616" stroke-width="1.8" />
<line x1="652.45" y1="649.1" x2="655.45" y2="649.1" stroke="#2a2a2a" stroke-width="1.2" />
<g transform="translate(635.65 657.9) scale(1.12 1)"><text font-size="22.6">1</text><rect x="0.45" y="-2.69" width="5.23" height="5.29" fill="#fff"/><rect x="7.68" y="-2.69" width="4.75" height="5.29" fill="#fff"/></g>
<text transform="translate(641.55 725.47) scale(1.04 1)" font-size="22.6" text-anchor="middle">0</text>
<rect x="669.41" y="807.7" width="16.96" height="73.2" fill="#b0b0b0" stroke="#0a0a0a" stroke-width="1.6"/>
<rect x="690.61" y="877.42" width="16.96" height="3.48" fill="#b0b0b0" stroke="#0a0a0a" stroke-width="1.6"/>
<rect x="711.81" y="879.74" width="16.96" height="1.16" fill="#b0b0b0" stroke="#0a0a0a" stroke-width="1.6"/>
<rect x="733.01" y="877.94" width="16.96" height="2.96" fill="#b0b0b0" stroke="#0a0a0a" stroke-width="1.6"/>
<rect x="754.21" y="877.42" width="16.96" height="3.48" fill="#b0b0b0" stroke="#0a0a0a" stroke-width="1.6"/>
<rect x="775.41" y="870.23" width="16.96" height="10.67" fill="#b0b0b0" stroke="#0a0a0a" stroke-width="1.6"/>
<rect x="796.61" y="860.08" width="16.96" height="20.82" fill="#b0b0b0" stroke="#0a0a0a" stroke-width="1.6"/>
<rect x="817.81" y="868" width="16.96" height="12.9" fill="#b0b0b0" stroke="#0a0a0a" stroke-width="1.6"/>
<line x1="677.89" y1="880.9" x2="677.89" y2="888.1" stroke="#484848" stroke-width="1.5" />
<line x1="699.09" y1="880.9" x2="699.09" y2="888.1" stroke="#484848" stroke-width="1.5" />
<line x1="720.29" y1="880.9" x2="720.29" y2="888.1" stroke="#484848" stroke-width="1.5" />
<line x1="741.49" y1="880.9" x2="741.49" y2="888.1" stroke="#484848" stroke-width="1.5" />
<line x1="762.69" y1="880.9" x2="762.69" y2="888.1" stroke="#484848" stroke-width="1.5" />
<line x1="783.89" y1="880.9" x2="783.89" y2="888.1" stroke="#484848" stroke-width="1.5" />
<line x1="805.09" y1="880.9" x2="805.09" y2="888.1" stroke="#484848" stroke-width="1.5" />
<line x1="826.29" y1="880.9" x2="826.29" y2="888.1" stroke="#484848" stroke-width="1.5" />
<line x1="652.55" y1="775.5" x2="652.55" y2="881.7" stroke="#2a2a2a" stroke-width="1.6" />
<line x1="651.7" y1="880.9" x2="851.95" y2="880.9" stroke="#161616" stroke-width="1.8" />
<line x1="652.45" y1="851.9" x2="655.45" y2="851.9" stroke="#2a2a2a" stroke-width="1.2" />
<line x1="652.45" y1="822.9" x2="655.45" y2="822.9" stroke="#2a2a2a" stroke-width="1.2" />
<line x1="652.45" y1="793.9" x2="655.45" y2="793.9" stroke="#2a2a2a" stroke-width="1.2" />
<g transform="translate(635.65 831.1) scale(1.12 1)"><text font-size="22.6">1</text><rect x="0.45" y="-2.69" width="5.23" height="5.29" fill="#fff"/><rect x="7.68" y="-2.69" width="4.75" height="5.29" fill="#fff"/></g>
<text transform="translate(641.55 897.67) scale(1.04 1)" font-size="22.6" text-anchor="middle">0</text>
<line x1="677.89" y1="1054.8" x2="677.89" y2="1062" stroke="#484848" stroke-width="1.5" />
<line x1="699.09" y1="1054.8" x2="699.09" y2="1062" stroke="#484848" stroke-width="1.5" />
<line x1="720.29" y1="1054.8" x2="720.29" y2="1062" stroke="#484848" stroke-width="1.5" />
<line x1="741.49" y1="1054.8" x2="741.49" y2="1062" stroke="#484848" stroke-width="1.5" />
<line x1="762.69" y1="1054.8" x2="762.69" y2="1062" stroke="#484848" stroke-width="1.5" />
<line x1="783.89" y1="1054.8" x2="783.89" y2="1062" stroke="#484848" stroke-width="1.5" />
<line x1="805.09" y1="1054.8" x2="805.09" y2="1062" stroke="#484848" stroke-width="1.5" />
<line x1="826.29" y1="1054.8" x2="826.29" y2="1062" stroke="#484848" stroke-width="1.5" />
<line x1="652.55" y1="949.4" x2="652.55" y2="1055.6" stroke="#2a2a2a" stroke-width="1.6" />
<line x1="651.7" y1="1054.8" x2="851.95" y2="1054.8" stroke="#161616" stroke-width="1.8" />
<line x1="652.45" y1="996.8" x2="655.45" y2="996.8" stroke="#2a2a2a" stroke-width="1.2" />
<line x1="652.45" y1="949.4" x2="851.95" y2="1054.8" stroke="#202020" stroke-width="2.7" stroke-linecap="round"/>
<line x1="652.45" y1="1054.8" x2="851.95" y2="949.4" stroke="#202020" stroke-width="2.7" stroke-linecap="round"/>
<rect x="888.08" y="167.53" width="16.48" height="18.27" fill="#9393ea" stroke="#0a0a0a" stroke-width="1.6"/>
<rect x="908.68" y="177.85" width="16.48" height="7.95" fill="#9393ea" stroke="#0a0a0a" stroke-width="1.6"/>
<rect x="929.28" y="183.31" width="16.48" height="2.49" fill="#9393ea" stroke="#0a0a0a" stroke-width="1.6"/>
<rect x="949.88" y="148.97" width="16.48" height="36.83" fill="#9393ea" stroke="#0a0a0a" stroke-width="1.6"/>
<rect x="970.48" y="142.3" width="16.48" height="43.5" fill="#9393ea" stroke="#0a0a0a" stroke-width="1.6"/>
<rect x="991.08" y="136.5" width="16.48" height="49.3" fill="#9393ea" stroke="#0a0a0a" stroke-width="1.6"/>
<rect x="1011.68" y="150.13" width="16.48" height="35.67" fill="#9393ea" stroke="#0a0a0a" stroke-width="1.6"/>
<rect x="1032.28" y="176.52" width="16.48" height="9.28" fill="#9393ea" stroke="#0a0a0a" stroke-width="1.6"/>
<line x1="896.32" y1="185.8" x2="896.32" y2="193" stroke="#484848" stroke-width="1.5" />
<line x1="916.92" y1="185.8" x2="916.92" y2="193" stroke="#484848" stroke-width="1.5" />
<line x1="937.52" y1="185.8" x2="937.52" y2="193" stroke="#484848" stroke-width="1.5" />
<line x1="958.12" y1="185.8" x2="958.12" y2="193" stroke="#484848" stroke-width="1.5" />
<line x1="978.72" y1="185.8" x2="978.72" y2="193" stroke="#484848" stroke-width="1.5" />
<line x1="999.32" y1="185.8" x2="999.32" y2="193" stroke="#484848" stroke-width="1.5" />
<line x1="1019.92" y1="185.8" x2="1019.92" y2="193" stroke="#484848" stroke-width="1.5" />
<line x1="1040.52" y1="185.8" x2="1040.52" y2="193" stroke="#484848" stroke-width="1.5" />
<line x1="871" y1="80.4" x2="871" y2="186.6" stroke="#2a2a2a" stroke-width="1.6" />
<line x1="870.15" y1="185.8" x2="1065.9" y2="185.8" stroke="#161616" stroke-width="1.8" />
<line x1="870.9" y1="127.8" x2="873.9" y2="127.8" stroke="#2a2a2a" stroke-width="1.2" />
<g transform="translate(854.1 138.1) scale(1.12 1)"><text font-size="22.6">1</text><rect x="0.45" y="-2.69" width="5.23" height="5.29" fill="#fff"/><rect x="7.68" y="-2.69" width="4.75" height="5.29" fill="#fff"/></g>
<text transform="translate(860.7 204.27) scale(1.04 1)" font-size="22.6" text-anchor="middle">0</text>
<rect x="888.08" y="340.85" width="16.48" height="18.85" fill="#9393ea" stroke="#0a0a0a" stroke-width="1.6"/>
<rect x="908.68" y="344.79" width="16.48" height="14.91" fill="#9393ea" stroke="#0a0a0a" stroke-width="1.6"/>
<rect x="929.28" y="261.45" width="16.48" height="98.25" fill="#9393ea" stroke="#0a0a0a" stroke-width="1.6"/>
<rect x="949.88" y="340.33" width="16.48" height="19.37" fill="#9393ea" stroke="#0a0a0a" stroke-width="1.6"/>
<rect x="970.48" y="352.51" width="16.48" height="7.19" fill="#9393ea" stroke="#0a0a0a" stroke-width="1.6"/>
<rect x="991.08" y="355.23" width="16.48" height="4.47" fill="#9393ea" stroke="#0a0a0a" stroke-width="1.6"/>
<rect x="1011.68" y="350.77" width="16.48" height="8.93" fill="#9393ea" stroke="#0a0a0a" stroke-width="1.6"/>
<rect x="1032.28" y="354.25" width="16.48" height="5.45" fill="#9393ea" stroke="#0a0a0a" stroke-width="1.6"/>
<line x1="896.32" y1="359.7" x2="896.32" y2="366.9" stroke="#484848" stroke-width="1.5" />
<line x1="916.92" y1="359.7" x2="916.92" y2="366.9" stroke="#484848" stroke-width="1.5" />
<line x1="937.52" y1="359.7" x2="937.52" y2="366.9" stroke="#484848" stroke-width="1.5" />
<line x1="958.12" y1="359.7" x2="958.12" y2="366.9" stroke="#484848" stroke-width="1.5" />
<line x1="978.72" y1="359.7" x2="978.72" y2="366.9" stroke="#484848" stroke-width="1.5" />
<line x1="999.32" y1="359.7" x2="999.32" y2="366.9" stroke="#484848" stroke-width="1.5" />
<line x1="1019.92" y1="359.7" x2="1019.92" y2="366.9" stroke="#484848" stroke-width="1.5" />
<line x1="1040.52" y1="359.7" x2="1040.52" y2="366.9" stroke="#484848" stroke-width="1.5" />
<line x1="871" y1="254.3" x2="871" y2="360.5" stroke="#2a2a2a" stroke-width="1.6" />
<line x1="870.15" y1="359.7" x2="1065.9" y2="359.7" stroke="#161616" stroke-width="1.8" />
<line x1="870.9" y1="301.7" x2="873.9" y2="301.7" stroke="#2a2a2a" stroke-width="1.2" />
<g transform="translate(854.1 312) scale(1.12 1)"><text font-size="22.6">1</text><rect x="0.45" y="-2.69" width="5.23" height="5.29" fill="#fff"/><rect x="7.68" y="-2.69" width="4.75" height="5.29" fill="#fff"/></g>
<text transform="translate(860.7 378.17) scale(1.04 1)" font-size="22.6" text-anchor="middle">0</text>
<rect x="888.08" y="512.07" width="16.48" height="21.58" fill="#9393ea" stroke="#0a0a0a" stroke-width="1.6"/>
<rect x="908.68" y="487.48" width="16.48" height="46.17" fill="#9393ea" stroke="#0a0a0a" stroke-width="1.6"/>
<rect x="929.28" y="532.49" width="16.48" height="1.16" fill="#9393ea" stroke="#0a0a0a" stroke-width="1.6"/>
<rect x="949.88" y="526.46" width="16.48" height="7.19" fill="#9393ea" stroke="#0a0a0a" stroke-width="1.6"/>
<rect x="970.48" y="532.49" width="16.48" height="1.16" fill="#9393ea" stroke="#0a0a0a" stroke-width="1.6"/>
<rect x="991.08" y="530.92" width="16.48" height="2.73" fill="#9393ea" stroke="#0a0a0a" stroke-width="1.6"/>
<rect x="1011.68" y="524.2" width="16.48" height="9.45" fill="#9393ea" stroke="#0a0a0a" stroke-width="1.6"/>
<rect x="1032.28" y="525.94" width="16.48" height="7.71" fill="#9393ea" stroke="#0a0a0a" stroke-width="1.6"/>
<line x1="896.32" y1="533.65" x2="896.32" y2="540.85" stroke="#484848" stroke-width="1.5" />
<line x1="916.92" y1="533.65" x2="916.92" y2="540.85" stroke="#484848" stroke-width="1.5" />
<line x1="937.52" y1="533.65" x2="937.52" y2="540.85" stroke="#484848" stroke-width="1.5" />
<line x1="958.12" y1="533.65" x2="958.12" y2="540.85" stroke="#484848" stroke-width="1.5" />
<line x1="978.72" y1="533.65" x2="978.72" y2="540.85" stroke="#484848" stroke-width="1.5" />
<line x1="999.32" y1="533.65" x2="999.32" y2="540.85" stroke="#484848" stroke-width="1.5" />
<line x1="1019.92" y1="533.65" x2="1019.92" y2="540.85" stroke="#484848" stroke-width="1.5" />
<line x1="1040.52" y1="533.65" x2="1040.52" y2="540.85" stroke="#484848" stroke-width="1.5" />
<line x1="871" y1="428.25" x2="871" y2="534.45" stroke="#2a2a2a" stroke-width="1.6" />
<line x1="870.15" y1="533.65" x2="1065.9" y2="533.65" stroke="#161616" stroke-width="1.8" />
<line x1="870.9" y1="475.65" x2="873.9" y2="475.65" stroke="#2a2a2a" stroke-width="1.2" />
<g transform="translate(854.1 483.95) scale(1.12 1)"><text font-size="22.6">1</text><rect x="0.45" y="-2.69" width="5.23" height="5.29" fill="#fff"/><rect x="7.68" y="-2.69" width="4.75" height="5.29" fill="#fff"/></g>
<text transform="translate(860.7 550.22) scale(1.04 1)" font-size="22.6" text-anchor="middle">0</text>
<rect x="888.08" y="703.39" width="16.48" height="3.71" fill="#9393ea" stroke="#0a0a0a" stroke-width="1.6"/>
<rect x="908.68" y="701.65" width="16.48" height="5.45" fill="#9393ea" stroke="#0a0a0a" stroke-width="1.6"/>
<rect x="929.28" y="700.66" width="16.48" height="6.44" fill="#9393ea" stroke="#0a0a0a" stroke-width="1.6"/>
<rect x="949.88" y="703.39" width="16.48" height="3.71" fill="#9393ea" stroke="#0a0a0a" stroke-width="1.6"/>
<rect x="970.48" y="686.97" width="16.48" height="20.13" fill="#9393ea" stroke="#0a0a0a" stroke-width="1.6"/>
<rect x="991.08" y="691.21" width="16.48" height="15.89" fill="#9393ea" stroke="#0a0a0a" stroke-width="1.6"/>
<rect x="1011.68" y="684.54" width="16.48" height="22.56" fill="#9393ea" stroke="#0a0a0a" stroke-width="1.6"/>
<rect x="1032.28" y="625.44" width="16.48" height="81.66" fill="#9393ea" stroke="#0a0a0a" stroke-width="1.6"/>
<line x1="896.32" y1="707.1" x2="896.32" y2="714.3" stroke="#484848" stroke-width="1.5" />
<line x1="916.92" y1="707.1" x2="916.92" y2="714.3" stroke="#484848" stroke-width="1.5" />
<line x1="937.52" y1="707.1" x2="937.52" y2="714.3" stroke="#484848" stroke-width="1.5" />
<line x1="958.12" y1="707.1" x2="958.12" y2="714.3" stroke="#484848" stroke-width="1.5" />
<line x1="978.72" y1="707.1" x2="978.72" y2="714.3" stroke="#484848" stroke-width="1.5" />
<line x1="999.32" y1="707.1" x2="999.32" y2="714.3" stroke="#484848" stroke-width="1.5" />
<line x1="1019.92" y1="707.1" x2="1019.92" y2="714.3" stroke="#484848" stroke-width="1.5" />
<line x1="1040.52" y1="707.1" x2="1040.52" y2="714.3" stroke="#484848" stroke-width="1.5" />
<line x1="871" y1="601.7" x2="871" y2="707.9" stroke="#2a2a2a" stroke-width="1.6" />
<line x1="870.15" y1="707.1" x2="1065.9" y2="707.1" stroke="#161616" stroke-width="1.8" />
<line x1="870.9" y1="649.1" x2="873.9" y2="649.1" stroke="#2a2a2a" stroke-width="1.2" />
<g transform="translate(854.1 657.9) scale(1.12 1)"><text font-size="22.6">1</text><rect x="0.45" y="-2.69" width="5.23" height="5.29" fill="#fff"/><rect x="7.68" y="-2.69" width="4.75" height="5.29" fill="#fff"/></g>
<text transform="translate(860.7 725.47) scale(1.04 1)" font-size="22.6" text-anchor="middle">0</text>
<rect x="887.38" y="829.51" width="16.48" height="51.39" fill="#9393ea" stroke="#0a0a0a" stroke-width="1.6"/>
<rect x="907.98" y="876.67" width="16.48" height="4.23" fill="#9393ea" stroke="#0a0a0a" stroke-width="1.6"/>
<rect x="928.58" y="880.44" width="16.48" height="0.46" fill="#9393ea" stroke="#0a0a0a" stroke-width="1.6"/>
<rect x="949.18" y="877.42" width="16.48" height="3.48" fill="#9393ea" stroke="#0a0a0a" stroke-width="1.6"/>
<rect x="969.78" y="878.93" width="16.48" height="1.97" fill="#9393ea" stroke="#0a0a0a" stroke-width="1.6"/>
<rect x="990.38" y="872.49" width="16.48" height="8.41" fill="#9393ea" stroke="#0a0a0a" stroke-width="1.6"/>
<rect x="1010.98" y="880.44" width="16.48" height="0.46" fill="#9393ea" stroke="#0a0a0a" stroke-width="1.6"/>
<rect x="1031.58" y="876.2" width="16.48" height="4.7" fill="#9393ea" stroke="#0a0a0a" stroke-width="1.6"/>
<line x1="895.62" y1="880.9" x2="895.62" y2="888.1" stroke="#484848" stroke-width="1.5" />
<line x1="916.22" y1="880.9" x2="916.22" y2="888.1" stroke="#484848" stroke-width="1.5" />
<line x1="936.82" y1="880.9" x2="936.82" y2="888.1" stroke="#484848" stroke-width="1.5" />
<line x1="957.42" y1="880.9" x2="957.42" y2="888.1" stroke="#484848" stroke-width="1.5" />
<line x1="978.02" y1="880.9" x2="978.02" y2="888.1" stroke="#484848" stroke-width="1.5" />
<line x1="998.62" y1="880.9" x2="998.62" y2="888.1" stroke="#484848" stroke-width="1.5" />
<line x1="1019.22" y1="880.9" x2="1019.22" y2="888.1" stroke="#484848" stroke-width="1.5" />
<line x1="1039.82" y1="880.9" x2="1039.82" y2="888.1" stroke="#484848" stroke-width="1.5" />
<line x1="871" y1="775.5" x2="871" y2="881.7" stroke="#2a2a2a" stroke-width="1.6" />
<line x1="870.15" y1="880.9" x2="1065.9" y2="880.9" stroke="#161616" stroke-width="1.8" />
<line x1="870.9" y1="851.9" x2="873.9" y2="851.9" stroke="#2a2a2a" stroke-width="1.2" />
<line x1="870.9" y1="822.9" x2="873.9" y2="822.9" stroke="#2a2a2a" stroke-width="1.2" />
<line x1="870.9" y1="793.9" x2="873.9" y2="793.9" stroke="#2a2a2a" stroke-width="1.2" />
<g transform="translate(854.1 831.1) scale(1.12 1)"><text font-size="22.6">1</text><rect x="0.45" y="-2.69" width="5.23" height="5.29" fill="#fff"/><rect x="7.68" y="-2.69" width="4.75" height="5.29" fill="#fff"/></g>
<text transform="translate(860.7 897.67) scale(1.04 1)" font-size="22.6" text-anchor="middle">0</text>
<line x1="896.32" y1="1054.8" x2="896.32" y2="1062" stroke="#484848" stroke-width="1.5" />
<line x1="916.92" y1="1054.8" x2="916.92" y2="1062" stroke="#484848" stroke-width="1.5" />
<line x1="937.52" y1="1054.8" x2="937.52" y2="1062" stroke="#484848" stroke-width="1.5" />
<line x1="958.12" y1="1054.8" x2="958.12" y2="1062" stroke="#484848" stroke-width="1.5" />
<line x1="978.72" y1="1054.8" x2="978.72" y2="1062" stroke="#484848" stroke-width="1.5" />
<line x1="999.32" y1="1054.8" x2="999.32" y2="1062" stroke="#484848" stroke-width="1.5" />
<line x1="1019.92" y1="1054.8" x2="1019.92" y2="1062" stroke="#484848" stroke-width="1.5" />
<line x1="1040.52" y1="1054.8" x2="1040.52" y2="1062" stroke="#484848" stroke-width="1.5" />
<line x1="871" y1="949.4" x2="871" y2="1055.6" stroke="#2a2a2a" stroke-width="1.6" />
<line x1="870.15" y1="1054.8" x2="1065.9" y2="1054.8" stroke="#161616" stroke-width="1.8" />
<line x1="870.9" y1="996.8" x2="873.9" y2="996.8" stroke="#2a2a2a" stroke-width="1.2" />
<line x1="870.9" y1="949.4" x2="1065.9" y2="1054.8" stroke="#202020" stroke-width="2.7" stroke-linecap="round"/>
<line x1="870.9" y1="1054.8" x2="1065.9" y2="949.4" stroke="#202020" stroke-width="2.7" stroke-linecap="round"/>
<path d="M1131.6 80.1 V185.7 H1325.6" fill="none" stroke="#1c1c1c" stroke-width="1.6" stroke-linejoin="miter"/>
<line x1="1131.6" y1="132.9" x2="1134.4" y2="132.9" stroke="#1c1c1c" stroke-width="1.2" />
<line x1="1228.6" y1="185.7" x2="1228.6" y2="182.9" stroke="#1c1c1c" stroke-width="1.2" />
<line x1="1325.6" y1="186.5" x2="1325.6" y2="182.9" stroke="#1c1c1c" stroke-width="1.2" />
<path d="M1133.84 183.33C1136.1 182.81 1142.87 181.8 1147.38 180.22C1151.89 178.64 1156.85 176.72 1160.91 173.86C1164.97 170.99 1168.36 166.98 1171.74 163.03C1175.13 159.08 1178.51 153.55 1181.22 150.17C1183.93 146.79 1185.73 144.6 1187.99 142.72C1190.24 140.85 1192.27 139.27 1194.75 138.93C1197.24 138.6 1199.94 139.88 1202.88 140.69C1205.81 141.51 1209.19 144.48 1212.35 143.81C1215.51 143.13 1219.12 140.31 1221.83 136.63C1224.53 132.96 1226.34 126.48 1228.6 121.74C1230.85 117.01 1232.77 111.59 1235.36 108.21C1237.96 104.82 1241.23 101.66 1244.16 101.44C1247.1 101.21 1249.92 104.15 1252.96 106.85C1256.01 109.56 1258.6 113.17 1262.44 117.68C1266.27 122.19 1271.46 128.51 1275.97 133.93C1280.49 139.34 1285 145.21 1289.51 150.17C1294.02 155.13 1298.98 160.55 1303.05 163.71C1307.11 166.86 1310.15 167.88 1313.87 169.12C1317.6 170.36 1323.46 170.81 1325.38 171.15" fill="none" stroke="#74c0ce" stroke-width="12.2" stroke-linejoin="round"/>
<g fill="rgba(0,0,0,0.135)">
<ellipse cx="1139.3" cy="88.8" rx="7.4" ry="7.4"/>
<ellipse cx="1139.3" cy="116.7" rx="5.3" ry="20.6"/>
<ellipse cx="1139.3" cy="147.6" rx="4" ry="10.6"/>
<ellipse cx="1139.3" cy="169" rx="4" ry="11.2"/>
<ellipse cx="1142.9" cy="181" rx="8.2" ry="2.7"/>
<ellipse cx="1229.5" cy="118.1" rx="7.4" ry="7.4"/>
<ellipse cx="1219.7" cy="141.6" rx="5.3" ry="19.9" transform="rotate(31 1219.7 141.6)"/>
<ellipse cx="1221.9" cy="158.9" rx="11.1" ry="4.1" transform="rotate(3 1221.9 158.9)"/>
<ellipse cx="1226.8" cy="170.5" rx="3.9" ry="10.3" transform="rotate(25 1226.8 170.5)"/>
<ellipse cx="1226.7" cy="181.6" rx="8.1" ry="2.7"/>
<ellipse cx="1312.5" cy="88.8" rx="7.4" ry="7.4"/>
<ellipse cx="1312.5" cy="116.7" rx="5.3" ry="20.6"/>
<ellipse cx="1312.5" cy="147.6" rx="4" ry="10.6"/>
<ellipse cx="1312.5" cy="169" rx="4" ry="11.2"/>
<ellipse cx="1316.1" cy="181" rx="8.2" ry="2.7"/>
</g>
<text transform="translate(1121.2 78.9) scale(0.98 1)" font-size="23.6" text-anchor="middle">4</text>
<path d="M1131.6 254.1 V359.7 H1325.6" fill="none" stroke="#1c1c1c" stroke-width="1.6" stroke-linejoin="miter"/>
<line x1="1131.6" y1="254.1" x2="1134.4" y2="254.1" stroke="#1c1c1c" stroke-width="1.2" />
<line x1="1131.6" y1="306.9" x2="1134.4" y2="306.9" stroke="#1c1c1c" stroke-width="1.2" />
<line x1="1228.6" y1="359.7" x2="1228.6" y2="356.9" stroke="#1c1c1c" stroke-width="1.2" />
<line x1="1325.6" y1="360.5" x2="1325.6" y2="356.9" stroke="#1c1c1c" stroke-width="1.2" />
<path d="M1133.16 347.86C1134.4 347.63 1137.79 346.91 1140.61 346.5C1143.43 346.1 1146.93 346.21 1150.08 345.42C1153.24 344.63 1156.18 343.95 1159.56 341.77C1162.94 339.58 1166.78 336.13 1170.39 332.29C1174 328.46 1177.61 323.04 1181.22 318.75C1184.83 314.47 1188.89 309.39 1192.05 306.57C1195.21 303.75 1197.46 302.78 1200.17 301.83C1202.88 300.89 1205.36 300.93 1208.29 300.89C1211.22 300.84 1214.61 300.84 1217.77 301.56C1220.92 302.29 1224.31 303.26 1227.24 305.22C1230.17 307.18 1232.66 309.96 1235.36 313.34C1238.07 316.72 1240.55 321.24 1243.49 325.52C1246.42 329.81 1249.8 335.22 1252.96 339.06C1256.12 342.89 1259.05 346.12 1262.44 348.53C1265.82 350.95 1269.2 352.42 1273.27 353.54C1277.33 354.67 1281.84 355.14 1286.8 355.3C1291.77 355.46 1296.68 354.72 1303.05 354.49C1309.41 354.27 1321.32 354.04 1324.97 353.95" fill="none" stroke="#74c0ce" stroke-width="12.2" stroke-linejoin="round"/>
<g fill="rgba(0,0,0,0.135)">
<ellipse cx="1139.3" cy="262.8" rx="7.4" ry="7.4"/>
<ellipse cx="1139.3" cy="290.7" rx="5.3" ry="20.6"/>
<ellipse cx="1139.3" cy="321.6" rx="4" ry="10.6"/>
<ellipse cx="1139.3" cy="343" rx="4" ry="11.2"/>
<ellipse cx="1142.9" cy="355" rx="8.2" ry="2.7"/>
<ellipse cx="1229.5" cy="292.1" rx="7.4" ry="7.4"/>
<ellipse cx="1219.7" cy="315.6" rx="5.3" ry="19.9" transform="rotate(31 1219.7 315.6)"/>
<ellipse cx="1221.9" cy="332.9" rx="11.1" ry="4.1" transform="rotate(3 1221.9 332.9)"/>
<ellipse cx="1226.8" cy="344.5" rx="3.9" ry="10.3" transform="rotate(25 1226.8 344.5)"/>
<ellipse cx="1226.7" cy="355.6" rx="8.1" ry="2.7"/>
<ellipse cx="1312.5" cy="262.8" rx="7.4" ry="7.4"/>
<ellipse cx="1312.5" cy="290.7" rx="5.3" ry="20.6"/>
<ellipse cx="1312.5" cy="321.6" rx="4" ry="10.6"/>
<ellipse cx="1312.5" cy="343" rx="4" ry="11.2"/>
<ellipse cx="1316.1" cy="355" rx="8.2" ry="2.7"/>
</g>
<text transform="translate(1121.2 254.8) scale(0.98 1)" font-size="23.6" text-anchor="middle">4</text>
<text transform="translate(1121.3 377.22) scale(0.96 1)" font-size="23.6" text-anchor="middle">0</text>
<path d="M1131.6 428.2 V533.8 H1325.6" fill="none" stroke="#1c1c1c" stroke-width="1.6" stroke-linejoin="miter"/>
<line x1="1131.6" y1="428.2" x2="1134.4" y2="428.2" stroke="#1c1c1c" stroke-width="1.2" />
<line x1="1131.6" y1="481" x2="1134.4" y2="481" stroke="#1c1c1c" stroke-width="1.2" />
<line x1="1228.6" y1="533.8" x2="1228.6" y2="531" stroke="#1c1c1c" stroke-width="1.2" />
<line x1="1325.6" y1="534.6" x2="1325.6" y2="531" stroke="#1c1c1c" stroke-width="1.2" />
<path d="M1133.57 512.35C1135.87 513.14 1142.82 516.01 1147.38 517.09C1151.93 518.17 1156.18 518.78 1160.91 518.85C1165.65 518.92 1170.16 518.13 1175.8 517.5C1181.44 516.86 1189.79 516.25 1194.75 515.06C1199.72 513.86 1202.2 512.13 1205.58 510.32C1208.97 508.52 1212.13 505.65 1215.06 504.23C1217.99 502.81 1219.8 501.68 1223.18 501.79C1226.57 501.91 1231.53 503.82 1235.36 504.91C1239.2 505.99 1241.68 508.29 1246.19 508.29C1250.71 508.29 1257.47 506.26 1262.44 504.91C1267.4 503.55 1272.25 501.3 1275.97 500.17C1279.7 499.04 1281.39 497.91 1284.77 498.14C1288.16 498.36 1292.1 499.94 1296.28 501.52C1300.45 503.1 1305.08 506.26 1309.81 507.61C1314.55 508.97 1322.22 509.31 1324.7 509.64" fill="none" stroke="#74c0ce" stroke-width="12.2" stroke-linejoin="round"/>
<g fill="rgba(0,0,0,0.135)">
<ellipse cx="1139.3" cy="436.9" rx="7.4" ry="7.4"/>
<ellipse cx="1139.3" cy="464.8" rx="5.3" ry="20.6"/>
<ellipse cx="1139.3" cy="495.7" rx="4" ry="10.6"/>
<ellipse cx="1139.3" cy="517.1" rx="4" ry="11.2"/>
<ellipse cx="1142.9" cy="529.1" rx="8.2" ry="2.7"/>
<ellipse cx="1229.5" cy="466.2" rx="7.4" ry="7.4"/>
<ellipse cx="1219.7" cy="489.7" rx="5.3" ry="19.9" transform="rotate(31 1219.7 489.7)"/>
<ellipse cx="1221.9" cy="507" rx="11.1" ry="4.1" transform="rotate(3 1221.9 507)"/>
<ellipse cx="1226.8" cy="518.6" rx="3.9" ry="10.3" transform="rotate(25 1226.8 518.6)"/>
<ellipse cx="1226.7" cy="529.7" rx="8.1" ry="2.7"/>
<ellipse cx="1312.5" cy="436.9" rx="7.4" ry="7.4"/>
<ellipse cx="1312.5" cy="464.8" rx="5.3" ry="20.6"/>
<ellipse cx="1312.5" cy="495.7" rx="4" ry="10.6"/>
<ellipse cx="1312.5" cy="517.1" rx="4" ry="11.2"/>
<ellipse cx="1316.1" cy="529.1" rx="8.2" ry="2.7"/>
</g>
<text transform="translate(1121.2 428.8) scale(0.98 1)" font-size="23.6" text-anchor="middle">4</text>
<text transform="translate(1121.3 551.52) scale(0.96 1)" font-size="23.6" text-anchor="middle">0</text>
<path d="M1131.6 601.9 V707.5 H1325.6" fill="none" stroke="#1c1c1c" stroke-width="1.6" stroke-linejoin="miter"/>
<line x1="1131.6" y1="601.9" x2="1134.4" y2="601.9" stroke="#1c1c1c" stroke-width="1.2" />
<line x1="1131.6" y1="654.7" x2="1134.4" y2="654.7" stroke="#1c1c1c" stroke-width="1.2" />
<line x1="1228.6" y1="707.5" x2="1228.6" y2="704.7" stroke="#1c1c1c" stroke-width="1.2" />
<line x1="1325.6" y1="708.3" x2="1325.6" y2="704.7" stroke="#1c1c1c" stroke-width="1.2" />
<path d="M1133.57 697.18C1134.74 696.62 1138.08 695.15 1140.61 693.8C1143.14 692.44 1146.02 690.48 1148.73 689.06C1151.44 687.64 1154.15 686.96 1156.85 685.27C1159.56 683.58 1162.27 680.53 1164.97 678.91C1167.68 677.28 1170.39 675.64 1173.1 675.52C1175.8 675.41 1178.51 677.51 1181.22 678.23C1183.93 678.95 1186.41 679.63 1189.34 679.85C1192.27 680.08 1195.88 679.29 1198.82 679.58C1201.75 679.88 1204.23 680.6 1206.94 681.61C1209.64 682.63 1212.58 685.34 1215.06 685.68C1217.54 686.01 1219.35 685 1221.83 683.64C1224.31 682.29 1227.02 679.18 1229.95 677.55C1232.88 675.93 1235.82 674.64 1239.42 673.9C1243.03 673.15 1247.77 673.04 1251.61 673.09C1255.44 673.13 1258.83 673.65 1262.44 674.17C1266.05 674.69 1269.88 675.79 1273.27 676.2C1276.65 676.61 1279.58 676.15 1282.74 676.61C1285.9 677.06 1289.28 677.73 1292.22 678.91C1295.15 680.08 1297.63 681.84 1300.34 683.64C1303.05 685.45 1305.75 688.04 1308.46 689.74C1311.17 691.43 1313.83 692.96 1316.58 693.8C1319.33 694.63 1323.58 694.59 1324.97 694.74" fill="none" stroke="#74c0ce" stroke-width="12.2" stroke-linejoin="round"/>
<g fill="rgba(0,0,0,0.135)">
<ellipse cx="1139.3" cy="610.6" rx="7.4" ry="7.4"/>
<ellipse cx="1139.3" cy="638.5" rx="5.3" ry="20.6"/>
<ellipse cx="1139.3" cy="669.4" rx="4" ry="10.6"/>
<ellipse cx="1139.3" cy="690.8" rx="4" ry="11.2"/>
<ellipse cx="1142.9" cy="702.8" rx="8.2" ry="2.7"/>
<ellipse cx="1229.9" cy="639.9" rx="7.4" ry="7.4"/>
<ellipse cx="1220.1" cy="663.4" rx="5.3" ry="19.9" transform="rotate(31 1220.1 663.4)"/>
<ellipse cx="1222.3" cy="680.7" rx="11.1" ry="4.1" transform="rotate(3 1222.3 680.7)"/>
<ellipse cx="1227.2" cy="692.3" rx="3.9" ry="10.3" transform="rotate(25 1227.2 692.3)"/>
<ellipse cx="1227.1" cy="703.4" rx="8.1" ry="2.7"/>
<ellipse cx="1310.1" cy="610.6" rx="7.4" ry="7.4"/>
<ellipse cx="1310.1" cy="638.5" rx="5.3" ry="20.6"/>
<ellipse cx="1310.1" cy="669.4" rx="4" ry="10.6"/>
<ellipse cx="1310.1" cy="690.8" rx="4" ry="11.2"/>
<ellipse cx="1313.7" cy="702.8" rx="8.2" ry="2.7"/>
</g>
<text transform="translate(1121.2 602.8) scale(0.98 1)" font-size="23.6" text-anchor="middle">4</text>
<text transform="translate(1121.3 727.12) scale(0.96 1)" font-size="23.6" text-anchor="middle">0</text>
<path d="M1131.6 775.3 V880.9 H1325.6" fill="none" stroke="#1c1c1c" stroke-width="1.6" stroke-linejoin="miter"/>
<line x1="1131.6" y1="775.3" x2="1134.4" y2="775.3" stroke="#1c1c1c" stroke-width="1.2" />
<line x1="1131.6" y1="828.1" x2="1134.4" y2="828.1" stroke="#1c1c1c" stroke-width="1.2" />
<line x1="1228.6" y1="880.9" x2="1228.6" y2="878.1" stroke="#1c1c1c" stroke-width="1.2" />
<line x1="1325.6" y1="881.7" x2="1325.6" y2="878.1" stroke="#1c1c1c" stroke-width="1.2" />
<path d="M1133.57 837.34C1134.52 838.58 1137.18 841.85 1139.26 844.79C1141.33 847.72 1143.54 851.78 1146.02 854.94C1148.51 858.1 1151.21 861.48 1154.15 863.74C1157.08 865.99 1160.01 867.35 1163.62 868.47C1167.23 869.6 1171.07 870.01 1175.8 870.5C1180.54 871 1187.54 870.77 1192.05 871.45C1196.56 872.13 1199.04 873.6 1202.88 874.57C1206.71 875.54 1210.77 876.64 1215.06 877.27C1219.35 877.9 1224.08 878.13 1228.6 878.36C1233.11 878.58 1238.07 878.74 1242.13 878.63C1246.19 878.51 1249.8 878.47 1252.96 877.68C1256.12 876.89 1258.6 876.1 1261.08 873.89C1263.56 871.68 1265.6 868.25 1267.85 864.41C1270.11 860.58 1272.36 855.39 1274.62 850.88C1276.88 846.36 1279.13 840.95 1281.39 837.34C1283.64 833.73 1286.01 831.07 1288.16 829.22C1290.3 827.37 1292.22 826.47 1294.25 826.24C1296.28 826.01 1298.2 827.14 1300.34 827.86C1302.48 828.59 1304.62 830.08 1307.11 830.57C1309.59 831.07 1312.3 830.62 1315.23 830.84C1318.16 831.07 1323.12 831.75 1324.7 831.93" fill="none" stroke="#74c0ce" stroke-width="12.2" stroke-linejoin="round"/>
<g fill="rgba(0,0,0,0.135)">
<ellipse cx="1139.3" cy="784" rx="7.4" ry="7.4"/>
<ellipse cx="1139.3" cy="811.9" rx="5.3" ry="20.6"/>
<ellipse cx="1139.3" cy="842.8" rx="4" ry="10.6"/>
<ellipse cx="1139.3" cy="864.2" rx="4" ry="11.2"/>
<ellipse cx="1142.9" cy="876.2" rx="8.2" ry="2.7"/>
<ellipse cx="1229.9" cy="813.3" rx="7.4" ry="7.4"/>
<ellipse cx="1220.1" cy="836.8" rx="5.3" ry="19.9" transform="rotate(31 1220.1 836.8)"/>
<ellipse cx="1222.3" cy="854.1" rx="11.1" ry="4.1" transform="rotate(3 1222.3 854.1)"/>
<ellipse cx="1227.2" cy="865.7" rx="3.9" ry="10.3" transform="rotate(25 1227.2 865.7)"/>
<ellipse cx="1227.1" cy="876.8" rx="8.1" ry="2.7"/>
<ellipse cx="1310.1" cy="784" rx="7.4" ry="7.4"/>
<ellipse cx="1310.1" cy="811.9" rx="5.3" ry="20.6"/>
<ellipse cx="1310.1" cy="842.8" rx="4" ry="10.6"/>
<ellipse cx="1310.1" cy="864.2" rx="4" ry="11.2"/>
<ellipse cx="1313.7" cy="876.2" rx="8.2" ry="2.7"/>
</g>
<text transform="translate(1121.2 778.8) scale(0.98 1)" font-size="23.6" text-anchor="middle">4</text>
<text transform="translate(1121.3 901.22) scale(0.96 1)" font-size="23.6" text-anchor="middle">0</text>
<path d="M1131.6 949.3 V1054.9 H1325.6" fill="none" stroke="#1c1c1c" stroke-width="1.6" stroke-linejoin="miter"/>
<line x1="1131.6" y1="949.3" x2="1134.4" y2="949.3" stroke="#1c1c1c" stroke-width="1.2" />
<line x1="1131.6" y1="1002.1" x2="1134.4" y2="1002.1" stroke="#1c1c1c" stroke-width="1.2" />
<line x1="1228.6" y1="1054.9" x2="1228.6" y2="1052.1" stroke="#1c1c1c" stroke-width="1.2" />
<line x1="1325.6" y1="1055.7" x2="1325.6" y2="1052.1" stroke="#1c1c1c" stroke-width="1.2" />
<path d="M1133.84 1042.32C1134.97 1041.76 1137.68 1039.68 1140.61 1038.94C1143.54 1038.19 1147.38 1038.03 1151.44 1037.85C1155.5 1037.67 1160.46 1038.01 1164.97 1037.85C1169.49 1037.7 1174.9 1037.85 1178.51 1036.91C1182.12 1035.96 1183.93 1034.09 1186.63 1032.17C1189.34 1030.25 1192.5 1026.87 1194.75 1025.4C1197.01 1023.93 1198.14 1023.37 1200.17 1023.37C1202.2 1023.37 1204.68 1024.43 1206.94 1025.4C1209.19 1026.37 1211.68 1028.51 1213.71 1029.19C1215.74 1029.87 1217.32 1030.09 1219.12 1029.46C1220.92 1028.83 1222.73 1027.88 1224.53 1025.4C1226.34 1022.92 1228.14 1017.5 1229.95 1014.57C1231.75 1011.64 1233.78 1009.11 1235.36 1007.8C1236.94 1006.5 1237.62 1006.27 1239.42 1006.72C1241.23 1007.17 1243.71 1008.3 1246.19 1010.51C1248.67 1012.72 1251.61 1016.83 1254.31 1019.99C1257.02 1023.14 1259.28 1026.75 1262.44 1029.46C1265.6 1032.17 1269.2 1034.09 1273.27 1036.23C1277.33 1038.37 1282.29 1040.86 1286.8 1042.32C1291.31 1043.79 1295.83 1044.24 1300.34 1045.03C1304.85 1045.82 1309.77 1046.45 1313.87 1047.06C1317.98 1047.67 1323.12 1048.41 1324.97 1048.68" fill="none" stroke="#74c0ce" stroke-width="12.2" stroke-linejoin="round"/>
<g fill="rgba(0,0,0,0.135)">
<ellipse cx="1140.3" cy="958" rx="7.4" ry="7.4"/>
<ellipse cx="1140.3" cy="985.9" rx="5.3" ry="20.6"/>
<ellipse cx="1140.3" cy="1016.8" rx="4" ry="10.6"/>
<ellipse cx="1140.3" cy="1038.2" rx="4" ry="11.2"/>
<ellipse cx="1143.9" cy="1050.2" rx="8.2" ry="2.7"/>
<ellipse cx="1230.8" cy="987.3" rx="7.4" ry="7.4"/>
<ellipse cx="1221" cy="1010.8" rx="5.3" ry="19.9" transform="rotate(31 1221 1010.8)"/>
<ellipse cx="1223.2" cy="1028.1" rx="11.1" ry="4.1" transform="rotate(3 1223.2 1028.1)"/>
<ellipse cx="1228.1" cy="1039.7" rx="3.9" ry="10.3" transform="rotate(25 1228.1 1039.7)"/>
<ellipse cx="1228" cy="1050.8" rx="8.1" ry="2.7"/>
<ellipse cx="1313.5" cy="958" rx="7.4" ry="7.4"/>
<ellipse cx="1313.5" cy="985.9" rx="5.3" ry="20.6"/>
<ellipse cx="1313.5" cy="1016.8" rx="4" ry="10.6"/>
<ellipse cx="1313.5" cy="1038.2" rx="4" ry="11.2"/>
<ellipse cx="1317.1" cy="1050.2" rx="8.2" ry="2.7"/>
</g>
<text transform="translate(1121.2 952.8) scale(0.98 1)" font-size="23.6" text-anchor="middle">4</text>
<text transform="translate(1133.1 1080.32) scale(0.94 1)" font-size="23.6" text-anchor="middle">0</text>
<g transform="translate(1289.99 1080.32) scale(0.95 1)"><text font-size="23.6">100</text><rect x="0.47" y="-2.76" width="5.46" height="5.36" fill="#fff"/><rect x="8.02" y="-2.76" width="4.96" height="5.36" fill="#fff"/></g>
<path d="M1352.8 80.1 V185.7 H1547.2" fill="none" stroke="#1c1c1c" stroke-width="1.6" stroke-linejoin="miter"/>
<line x1="1352.8" y1="132.9" x2="1355.6" y2="132.9" stroke="#1c1c1c" stroke-width="1.2" />
<line x1="1450" y1="185.7" x2="1450" y2="182.9" stroke="#1c1c1c" stroke-width="1.2" />
<line x1="1547.2" y1="186.5" x2="1547.2" y2="182.9" stroke="#1c1c1c" stroke-width="1.2" />
<path d="M1355.19 183.33C1357.23 182.81 1363.09 182.02 1367.38 180.22C1371.66 178.42 1376.63 175.93 1380.91 172.5C1385.2 169.08 1389.26 164.27 1393.1 159.64C1396.93 155.02 1400.77 148.36 1403.93 144.75C1407.08 141.14 1409.34 139.52 1412.05 137.99C1414.75 136.45 1417.24 135.84 1420.17 135.55C1423.1 135.26 1426.94 136.72 1429.64 136.23C1432.35 135.73 1433.93 135.44 1436.41 132.57C1438.89 129.71 1441.83 123.77 1444.53 119.04C1447.24 114.3 1449.84 108.14 1452.66 104.15C1455.48 100.15 1458.52 95.3 1461.46 95.08C1464.39 94.85 1467.21 99.02 1470.25 102.79C1473.3 106.56 1476.35 112.49 1479.73 117.68C1483.11 122.87 1486.72 128.51 1490.56 133.93C1494.39 139.34 1498.45 145.21 1502.74 150.17C1507.03 155.13 1511.77 160.21 1516.28 163.71C1520.79 167.2 1524.74 169.46 1529.81 171.15C1534.89 172.84 1543.91 173.41 1546.73 173.86" fill="none" stroke="#aeaeae" stroke-width="12.2" stroke-linejoin="round"/>
<g fill="rgba(0,0,0,0.135)">
<ellipse cx="1360.5" cy="88.8" rx="7.4" ry="7.4"/>
<ellipse cx="1360.5" cy="116.7" rx="5.3" ry="20.6"/>
<ellipse cx="1360.5" cy="147.6" rx="4" ry="10.6"/>
<ellipse cx="1360.5" cy="169" rx="4" ry="11.2"/>
<ellipse cx="1364.1" cy="181" rx="8.2" ry="2.7"/>
<ellipse cx="1450.7" cy="118.1" rx="7.4" ry="7.4"/>
<ellipse cx="1440.9" cy="141.6" rx="5.3" ry="19.9" transform="rotate(31 1440.9 141.6)"/>
<ellipse cx="1443.1" cy="158.9" rx="11.1" ry="4.1" transform="rotate(3 1443.1 158.9)"/>
<ellipse cx="1448" cy="170.5" rx="3.9" ry="10.3" transform="rotate(25 1448 170.5)"/>
<ellipse cx="1447.9" cy="181.6" rx="8.1" ry="2.7"/>
<ellipse cx="1533.7" cy="88.8" rx="7.4" ry="7.4"/>
<ellipse cx="1533.7" cy="116.7" rx="5.3" ry="20.6"/>
<ellipse cx="1533.7" cy="147.6" rx="4" ry="10.6"/>
<ellipse cx="1533.7" cy="169" rx="4" ry="11.2"/>
<ellipse cx="1537.3" cy="181" rx="8.2" ry="2.7"/>
</g>
<path d="M1352.8 254.1 V359.7 H1547.2" fill="none" stroke="#1c1c1c" stroke-width="1.6" stroke-linejoin="miter"/>
<line x1="1352.8" y1="254.1" x2="1355.6" y2="254.1" stroke="#1c1c1c" stroke-width="1.2" />
<line x1="1352.8" y1="306.9" x2="1355.6" y2="306.9" stroke="#1c1c1c" stroke-width="1.2" />
<line x1="1450" y1="359.7" x2="1450" y2="356.9" stroke="#1c1c1c" stroke-width="1.2" />
<line x1="1547.2" y1="360.5" x2="1547.2" y2="356.9" stroke="#1c1c1c" stroke-width="1.2" />
<path d="M1354.52 351.92C1356.21 351.58 1361.4 351.13 1364.67 349.89C1367.94 348.65 1370.76 347.18 1374.15 344.47C1377.53 341.77 1381.36 337.48 1384.97 333.64C1388.58 329.81 1392.19 325.75 1395.8 321.46C1399.41 317.18 1403.47 311.65 1406.63 307.93C1409.79 304.2 1412.05 301.38 1414.75 299.13C1417.46 296.87 1420.17 295.4 1422.88 294.39C1425.58 293.37 1428.29 293.04 1431 293.04C1433.71 293.04 1436.19 293.15 1439.12 294.39C1442.05 295.63 1445.44 297.77 1448.6 300.48C1451.75 303.19 1454.69 306.68 1458.07 310.63C1461.46 314.58 1465.29 319.43 1468.9 324.17C1472.51 328.91 1476.35 335.11 1479.73 339.06C1483.11 343.01 1486.05 345.6 1489.2 347.86C1492.36 350.11 1495.3 351.63 1498.68 352.6C1502.06 353.57 1505.45 353.57 1509.51 353.68C1513.57 353.79 1518.53 353.5 1523.05 353.27C1527.56 353.05 1532.57 352.55 1536.58 352.32C1540.6 352.1 1545.38 351.99 1547.14 351.92" fill="none" stroke="#aeaeae" stroke-width="12.2" stroke-linejoin="round"/>
<g fill="rgba(0,0,0,0.135)">
<ellipse cx="1360.5" cy="262.8" rx="7.4" ry="7.4"/>
<ellipse cx="1360.5" cy="290.7" rx="5.3" ry="20.6"/>
<ellipse cx="1360.5" cy="321.6" rx="4" ry="10.6"/>
<ellipse cx="1360.5" cy="343" rx="4" ry="11.2"/>
<ellipse cx="1364.1" cy="355" rx="8.2" ry="2.7"/>
<ellipse cx="1450.7" cy="292.1" rx="7.4" ry="7.4"/>
<ellipse cx="1440.9" cy="315.6" rx="5.3" ry="19.9" transform="rotate(31 1440.9 315.6)"/>
<ellipse cx="1443.1" cy="332.9" rx="11.1" ry="4.1" transform="rotate(3 1443.1 332.9)"/>
<ellipse cx="1448" cy="344.5" rx="3.9" ry="10.3" transform="rotate(25 1448 344.5)"/>
<ellipse cx="1447.9" cy="355.6" rx="8.1" ry="2.7"/>
<ellipse cx="1533.7" cy="262.8" rx="7.4" ry="7.4"/>
<ellipse cx="1533.7" cy="290.7" rx="5.3" ry="20.6"/>
<ellipse cx="1533.7" cy="321.6" rx="4" ry="10.6"/>
<ellipse cx="1533.7" cy="343" rx="4" ry="11.2"/>
<ellipse cx="1537.3" cy="355" rx="8.2" ry="2.7"/>
</g>
<path d="M1352.8 428.2 V533.8 H1547.2" fill="none" stroke="#1c1c1c" stroke-width="1.6" stroke-linejoin="miter"/>
<line x1="1352.8" y1="428.2" x2="1355.6" y2="428.2" stroke="#1c1c1c" stroke-width="1.2" />
<line x1="1352.8" y1="481" x2="1355.6" y2="481" stroke="#1c1c1c" stroke-width="1.2" />
<line x1="1450" y1="533.8" x2="1450" y2="531" stroke="#1c1c1c" stroke-width="1.2" />
<line x1="1547.2" y1="534.6" x2="1547.2" y2="531" stroke="#1c1c1c" stroke-width="1.2" />
<path d="M1355.47 497.46C1356.55 498.14 1359.75 499.49 1361.96 501.52C1364.17 503.55 1366.25 506.94 1368.73 509.64C1371.21 512.35 1373.92 515.74 1376.85 517.77C1379.79 519.8 1383.17 521.26 1386.33 521.83C1389.49 522.39 1392.42 521.65 1395.8 521.15C1399.19 520.65 1403.02 519.75 1406.63 518.85C1410.24 517.95 1413.85 517.04 1417.46 515.74C1421.07 514.43 1425.13 513.14 1428.29 511C1431.45 508.86 1433.71 505.7 1436.41 502.88C1439.12 500.06 1442.17 496.06 1444.53 494.08C1446.9 492.09 1448.6 491.08 1450.63 490.96C1452.66 490.85 1454.57 491.87 1456.72 493.4C1458.86 494.94 1461 497.69 1463.49 500.17C1465.97 502.65 1468.9 506.37 1471.61 508.29C1474.31 510.21 1477.02 511.45 1479.73 511.68C1482.44 511.9 1484.92 510.77 1487.85 509.64C1490.78 508.52 1494.17 506.03 1497.33 504.91C1500.49 503.78 1503.64 503.03 1506.8 502.88C1509.96 502.72 1513.12 503.28 1516.28 503.96C1519.44 504.64 1522.59 506.22 1525.75 506.94C1528.91 507.66 1531.73 508.18 1535.23 508.29C1538.73 508.4 1544.82 507.73 1546.73 507.61" fill="none" stroke="#aeaeae" stroke-width="12.2" stroke-linejoin="round"/>
<g fill="rgba(0,0,0,0.135)">
<ellipse cx="1360.5" cy="436.9" rx="7.4" ry="7.4"/>
<ellipse cx="1360.5" cy="464.8" rx="5.3" ry="20.6"/>
<ellipse cx="1360.5" cy="495.7" rx="4" ry="10.6"/>
<ellipse cx="1360.5" cy="517.1" rx="4" ry="11.2"/>
<ellipse cx="1364.1" cy="529.1" rx="8.2" ry="2.7"/>
<ellipse cx="1450.7" cy="466.2" rx="7.4" ry="7.4"/>
<ellipse cx="1440.9" cy="489.7" rx="5.3" ry="19.9" transform="rotate(31 1440.9 489.7)"/>
<ellipse cx="1443.1" cy="507" rx="11.1" ry="4.1" transform="rotate(3 1443.1 507)"/>
<ellipse cx="1448" cy="518.6" rx="3.9" ry="10.3" transform="rotate(25 1448 518.6)"/>
<ellipse cx="1447.9" cy="529.7" rx="8.1" ry="2.7"/>
<ellipse cx="1533.7" cy="436.9" rx="7.4" ry="7.4"/>
<ellipse cx="1533.7" cy="464.8" rx="5.3" ry="20.6"/>
<ellipse cx="1533.7" cy="495.7" rx="4" ry="10.6"/>
<ellipse cx="1533.7" cy="517.1" rx="4" ry="11.2"/>
<ellipse cx="1537.3" cy="529.1" rx="8.2" ry="2.7"/>
</g>
<path d="M1352.8 601.9 V707.5 H1547.2" fill="none" stroke="#1c1c1c" stroke-width="1.6" stroke-linejoin="miter"/>
<line x1="1352.8" y1="601.9" x2="1355.6" y2="601.9" stroke="#1c1c1c" stroke-width="1.2" />
<line x1="1352.8" y1="654.7" x2="1355.6" y2="654.7" stroke="#1c1c1c" stroke-width="1.2" />
<line x1="1450" y1="707.5" x2="1450" y2="704.7" stroke="#1c1c1c" stroke-width="1.2" />
<line x1="1547.2" y1="708.3" x2="1547.2" y2="704.7" stroke="#1c1c1c" stroke-width="1.2" />
<path d="M1354.92 694.47C1356.32 693.91 1360.56 692.1 1363.32 691.09C1366.07 690.07 1368.73 689.4 1371.44 688.38C1374.15 687.37 1377.08 686.92 1379.56 685C1382.04 683.08 1384.3 679.58 1386.33 676.88C1388.36 674.17 1389.94 670.74 1391.74 668.75C1393.55 666.77 1395.35 665.19 1397.16 664.96C1398.96 664.74 1400.54 665.42 1402.57 667.4C1404.6 669.39 1407.08 674.28 1409.34 676.88C1411.6 679.47 1413.85 682.63 1416.11 682.97C1418.36 683.31 1420.39 681.28 1422.88 678.91C1425.36 676.54 1428.52 671.46 1431 668.75C1433.48 666.05 1435.51 663.57 1437.77 662.66C1440.02 661.76 1442.5 662.89 1444.53 663.34C1446.57 663.79 1448.14 665.48 1449.95 665.37C1451.75 665.26 1453.33 664.69 1455.36 662.66C1457.39 660.63 1459.99 655.44 1462.13 653.19C1464.28 650.93 1466.19 649.24 1468.22 649.13C1470.25 649.01 1471.95 650.82 1474.31 652.51C1476.68 654.2 1479.73 657.36 1482.44 659.28C1485.14 661.2 1487.4 662.66 1490.56 664.02C1493.72 665.37 1497.78 666.16 1501.39 667.4C1505 668.64 1508.83 669.77 1512.22 671.46C1515.6 673.15 1518.76 675.41 1521.69 677.55C1524.62 679.7 1527.11 682.4 1529.81 684.32C1532.52 686.24 1535.12 688 1537.94 689.06C1540.76 690.12 1545.27 690.41 1546.73 690.68" fill="none" stroke="#aeaeae" stroke-width="12.2" stroke-linejoin="round"/>
<g fill="rgba(0,0,0,0.135)">
<ellipse cx="1360.5" cy="610.6" rx="7.4" ry="7.4"/>
<ellipse cx="1360.5" cy="638.5" rx="5.3" ry="20.6"/>
<ellipse cx="1360.5" cy="669.4" rx="4" ry="10.6"/>
<ellipse cx="1360.5" cy="690.8" rx="4" ry="11.2"/>
<ellipse cx="1364.1" cy="702.8" rx="8.2" ry="2.7"/>
<ellipse cx="1450.7" cy="639.9" rx="7.4" ry="7.4"/>
<ellipse cx="1440.9" cy="663.4" rx="5.3" ry="19.9" transform="rotate(31 1440.9 663.4)"/>
<ellipse cx="1443.1" cy="680.7" rx="11.1" ry="4.1" transform="rotate(3 1443.1 680.7)"/>
<ellipse cx="1448" cy="692.3" rx="3.9" ry="10.3" transform="rotate(25 1448 692.3)"/>
<ellipse cx="1447.9" cy="703.4" rx="8.1" ry="2.7"/>
<ellipse cx="1533.7" cy="610.6" rx="7.4" ry="7.4"/>
<ellipse cx="1533.7" cy="638.5" rx="5.3" ry="20.6"/>
<ellipse cx="1533.7" cy="669.4" rx="4" ry="10.6"/>
<ellipse cx="1533.7" cy="690.8" rx="4" ry="11.2"/>
<ellipse cx="1537.3" cy="702.8" rx="8.2" ry="2.7"/>
</g>
<path d="M1352.8 775.3 V880.9 H1547.2" fill="none" stroke="#1c1c1c" stroke-width="1.6" stroke-linejoin="miter"/>
<line x1="1352.8" y1="775.3" x2="1355.6" y2="775.3" stroke="#1c1c1c" stroke-width="1.2" />
<line x1="1352.8" y1="828.1" x2="1355.6" y2="828.1" stroke="#1c1c1c" stroke-width="1.2" />
<line x1="1450" y1="880.9" x2="1450" y2="878.1" stroke="#1c1c1c" stroke-width="1.2" />
<line x1="1547.2" y1="881.7" x2="1547.2" y2="878.1" stroke="#1c1c1c" stroke-width="1.2" />
<path d="M1354.92 850.88C1355.87 852.12 1358.31 855.61 1360.61 858.32C1362.91 861.03 1366.02 864.64 1368.73 867.12C1371.44 869.6 1374.15 871.86 1376.85 873.21C1379.56 874.57 1382.04 875.24 1384.97 875.24C1387.91 875.24 1391.29 874.23 1394.45 873.21C1397.61 872.2 1400.99 870.05 1403.93 869.15C1406.86 868.25 1409.34 867.68 1412.05 867.8C1414.75 867.91 1417.46 869.08 1420.17 869.83C1422.88 870.57 1425.58 871.77 1428.29 872.26C1431 872.76 1433.48 873.1 1436.41 872.81C1439.35 872.51 1442.73 871.34 1445.89 870.5C1449.05 869.67 1451.98 868.81 1455.36 867.8C1458.75 866.78 1462.58 866.1 1466.19 864.41C1469.8 862.72 1473.41 860.01 1477.02 857.64C1480.63 855.28 1484.69 852.91 1487.85 850.2C1491.01 847.49 1493.27 844.67 1495.97 841.4C1498.68 838.13 1501.84 833.39 1504.09 830.57C1506.35 827.75 1507.7 825.88 1509.51 824.48C1511.31 823.08 1512.89 822.18 1514.92 822.18C1516.95 822.18 1519.21 823.42 1521.69 824.48C1524.17 825.54 1527.11 827.53 1529.81 828.54C1532.52 829.56 1535.12 830.01 1537.94 830.57C1540.76 831.14 1545.27 831.7 1546.73 831.93" fill="none" stroke="#aeaeae" stroke-width="12.2" stroke-linejoin="round"/>
<g fill="rgba(0,0,0,0.135)">
<ellipse cx="1358.8" cy="784" rx="7.4" ry="7.4"/>
<ellipse cx="1358.8" cy="811.9" rx="5.3" ry="20.6"/>
<ellipse cx="1358.8" cy="842.8" rx="4" ry="10.6"/>
<ellipse cx="1358.8" cy="864.2" rx="4" ry="11.2"/>
<ellipse cx="1362.4" cy="876.2" rx="8.2" ry="2.7"/>
<ellipse cx="1448.9" cy="813.3" rx="7.4" ry="7.4"/>
<ellipse cx="1439.1" cy="836.8" rx="5.3" ry="19.9" transform="rotate(31 1439.1 836.8)"/>
<ellipse cx="1441.3" cy="854.1" rx="11.1" ry="4.1" transform="rotate(3 1441.3 854.1)"/>
<ellipse cx="1446.2" cy="865.7" rx="3.9" ry="10.3" transform="rotate(25 1446.2 865.7)"/>
<ellipse cx="1446.1" cy="876.8" rx="8.1" ry="2.7"/>
<ellipse cx="1529.3" cy="784" rx="7.4" ry="7.4"/>
<ellipse cx="1529.3" cy="811.9" rx="5.3" ry="20.6"/>
<ellipse cx="1529.3" cy="842.8" rx="4" ry="10.6"/>
<ellipse cx="1529.3" cy="864.2" rx="4" ry="11.2"/>
<ellipse cx="1532.9" cy="876.2" rx="8.2" ry="2.7"/>
</g>
<path d="M1352.8 949.3 V1054.9 H1547.2" fill="none" stroke="#1c1c1c" stroke-width="1.6" stroke-linejoin="miter"/>
<line x1="1352.8" y1="949.3" x2="1355.6" y2="949.3" stroke="#1c1c1c" stroke-width="1.2" />
<line x1="1352.8" y1="1002.1" x2="1355.6" y2="1002.1" stroke="#1c1c1c" stroke-width="1.2" />
<line x1="1450" y1="1054.9" x2="1450" y2="1052.1" stroke="#1c1c1c" stroke-width="1.2" />
<line x1="1547.2" y1="1055.7" x2="1547.2" y2="1052.1" stroke="#1c1c1c" stroke-width="1.2" />
<line x1="1352.8" y1="949.3" x2="1547.2" y2="1054.9" stroke="#202020" stroke-width="2.7" stroke-linecap="round"/>
<line x1="1352.8" y1="1054.9" x2="1547.2" y2="949.3" stroke="#202020" stroke-width="2.7" stroke-linecap="round"/>
<text transform="translate(1354.5 1080.32) scale(0.94 1)" font-size="23.6" text-anchor="middle">0</text>
<g transform="translate(1512.09 1080.32) scale(0.95 1)"><text font-size="23.6">100</text><rect x="0.47" y="-2.76" width="5.46" height="5.36" fill="#fff"/><rect x="8.02" y="-2.76" width="4.96" height="5.36" fill="#fff"/></g>
<path d="M1574.1 80.1 V185.7 H1766.7" fill="none" stroke="#1c1c1c" stroke-width="1.6" stroke-linejoin="miter"/>
<line x1="1574.1" y1="132.9" x2="1576.9" y2="132.9" stroke="#1c1c1c" stroke-width="1.2" />
<line x1="1670.4" y1="185.7" x2="1670.4" y2="182.9" stroke="#1c1c1c" stroke-width="1.2" />
<line x1="1766.7" y1="186.5" x2="1766.7" y2="182.9" stroke="#1c1c1c" stroke-width="1.2" />
<path d="M1575.64 180.63C1577.56 180.4 1582.97 180.06 1587.15 179.27C1591.32 178.48 1596.17 177.81 1600.68 175.89C1605.19 173.97 1609.71 171.38 1614.22 167.77C1618.73 164.16 1623.69 157.73 1627.75 154.23C1631.82 150.73 1634.97 148.36 1638.58 146.79C1642.19 145.21 1646.25 145.54 1649.41 144.75C1652.57 143.97 1654.83 144.3 1657.53 142.05C1660.24 139.79 1663.17 134.6 1665.66 131.22C1668.14 127.83 1670.28 123.89 1672.42 121.74C1674.57 119.6 1676.26 118.36 1678.52 118.36C1680.77 118.36 1683.14 119.94 1685.96 121.74C1688.78 123.55 1691.6 126.37 1695.44 129.19C1699.27 132.01 1704.46 135.96 1708.97 138.66C1713.49 141.37 1718.45 142.95 1722.51 145.43C1726.57 147.91 1729.73 150.62 1733.34 153.55C1736.95 156.49 1740.56 160.55 1744.17 163.03C1747.78 165.51 1751.27 167.2 1755 168.44C1758.72 169.68 1764.58 170.14 1766.5 170.47" fill="none" stroke="#9393ea" stroke-width="12.2" stroke-linejoin="round"/>
<g fill="rgba(0,0,0,0.135)">
<ellipse cx="1581.8" cy="88.8" rx="7.4" ry="7.4"/>
<ellipse cx="1581.8" cy="116.7" rx="5.3" ry="20.6"/>
<ellipse cx="1581.8" cy="147.6" rx="4" ry="10.6"/>
<ellipse cx="1581.8" cy="169" rx="4" ry="11.2"/>
<ellipse cx="1585.4" cy="181" rx="8.2" ry="2.7"/>
<ellipse cx="1672" cy="118.1" rx="7.4" ry="7.4"/>
<ellipse cx="1662.2" cy="141.6" rx="5.3" ry="19.9" transform="rotate(31 1662.2 141.6)"/>
<ellipse cx="1664.4" cy="158.9" rx="11.1" ry="4.1" transform="rotate(3 1664.4 158.9)"/>
<ellipse cx="1669.3" cy="170.5" rx="3.9" ry="10.3" transform="rotate(25 1669.3 170.5)"/>
<ellipse cx="1669.2" cy="181.6" rx="8.1" ry="2.7"/>
<ellipse cx="1755" cy="88.8" rx="7.4" ry="7.4"/>
<ellipse cx="1755" cy="116.7" rx="5.3" ry="20.6"/>
<ellipse cx="1755" cy="147.6" rx="4" ry="10.6"/>
<ellipse cx="1755" cy="169" rx="4" ry="11.2"/>
<ellipse cx="1758.6" cy="181" rx="8.2" ry="2.7"/>
</g>
<path d="M1574.1 254.1 V359.7 H1766.7" fill="none" stroke="#1c1c1c" stroke-width="1.6" stroke-linejoin="miter"/>
<line x1="1574.1" y1="254.1" x2="1576.9" y2="254.1" stroke="#1c1c1c" stroke-width="1.2" />
<line x1="1574.1" y1="306.9" x2="1576.9" y2="306.9" stroke="#1c1c1c" stroke-width="1.2" />
<line x1="1670.4" y1="359.7" x2="1670.4" y2="356.9" stroke="#1c1c1c" stroke-width="1.2" />
<line x1="1766.7" y1="360.5" x2="1766.7" y2="356.9" stroke="#1c1c1c" stroke-width="1.2" />
<path d="M1576.32 351.24C1577.67 350.34 1581.51 348.65 1584.44 345.83C1587.37 343.01 1590.53 338.38 1593.91 334.32C1597.3 330.26 1600.91 325.86 1604.74 321.46C1608.58 317.06 1613.09 312.66 1616.93 307.93C1620.76 303.19 1624.6 297.77 1627.75 293.04C1630.91 288.3 1633.28 282.77 1635.88 279.5C1638.47 276.23 1640.84 273.75 1643.32 273.41C1645.8 273.07 1647.95 275.1 1650.77 277.47C1653.59 279.84 1657.31 284.12 1660.24 287.62C1663.17 291.12 1665.66 294.39 1668.36 298.45C1671.07 302.51 1673.78 307.47 1676.49 311.99C1679.19 316.5 1681.9 321.46 1684.61 325.52C1687.31 329.58 1689.8 333.08 1692.73 336.35C1695.66 339.62 1699.05 342.85 1702.2 345.15C1705.36 347.45 1708.3 348.94 1711.68 350.16C1715.06 351.38 1718.45 351.99 1722.51 352.46C1726.57 352.93 1731.53 352.91 1736.05 353C1740.56 353.09 1744.51 353.05 1749.58 353C1754.66 352.96 1763.68 352.78 1766.5 352.73" fill="none" stroke="#9393ea" stroke-width="12.2" stroke-linejoin="round"/>
<g fill="rgba(0,0,0,0.135)">
<ellipse cx="1581.8" cy="262.8" rx="7.4" ry="7.4"/>
<ellipse cx="1581.8" cy="290.7" rx="5.3" ry="20.6"/>
<ellipse cx="1581.8" cy="321.6" rx="4" ry="10.6"/>
<ellipse cx="1581.8" cy="343" rx="4" ry="11.2"/>
<ellipse cx="1585.4" cy="355" rx="8.2" ry="2.7"/>
<ellipse cx="1672" cy="292.1" rx="7.4" ry="7.4"/>
<ellipse cx="1662.2" cy="315.6" rx="5.3" ry="19.9" transform="rotate(31 1662.2 315.6)"/>
<ellipse cx="1664.4" cy="332.9" rx="11.1" ry="4.1" transform="rotate(3 1664.4 332.9)"/>
<ellipse cx="1669.3" cy="344.5" rx="3.9" ry="10.3" transform="rotate(25 1669.3 344.5)"/>
<ellipse cx="1669.2" cy="355.6" rx="8.1" ry="2.7"/>
<ellipse cx="1755" cy="262.8" rx="7.4" ry="7.4"/>
<ellipse cx="1755" cy="290.7" rx="5.3" ry="20.6"/>
<ellipse cx="1755" cy="321.6" rx="4" ry="10.6"/>
<ellipse cx="1755" cy="343" rx="4" ry="11.2"/>
<ellipse cx="1758.6" cy="355" rx="8.2" ry="2.7"/>
</g>
<path d="M1574.1 428.2 V533.8 H1766.7" fill="none" stroke="#1c1c1c" stroke-width="1.6" stroke-linejoin="miter"/>
<line x1="1574.1" y1="428.2" x2="1576.9" y2="428.2" stroke="#1c1c1c" stroke-width="1.2" />
<line x1="1574.1" y1="481" x2="1576.9" y2="481" stroke="#1c1c1c" stroke-width="1.2" />
<line x1="1670.4" y1="533.8" x2="1670.4" y2="531" stroke="#1c1c1c" stroke-width="1.2" />
<line x1="1766.7" y1="534.6" x2="1766.7" y2="531" stroke="#1c1c1c" stroke-width="1.2" />
<path d="M1576.99 511C1578.23 511.9 1581.84 514.83 1584.44 516.41C1587.03 517.99 1589.85 519.57 1592.56 520.47C1595.27 521.38 1597.07 521.71 1600.68 521.83C1604.29 521.94 1609.71 521.26 1614.22 521.15C1618.73 521.04 1623.69 521.83 1627.75 521.15C1631.82 520.47 1634.97 518.67 1638.58 517.09C1642.19 515.51 1646.25 513.1 1649.41 511.68C1652.57 510.25 1655.05 509.17 1657.53 508.56C1660.02 507.95 1662.05 507.73 1664.3 508.02C1666.56 508.31 1668.82 509.26 1671.07 510.32C1673.33 511.38 1675.58 513.41 1677.84 514.38C1680.1 515.35 1682.35 516.14 1684.61 516.14C1686.86 516.14 1689.12 514.9 1691.38 514.38C1693.63 513.86 1695.89 513.03 1698.14 513.03C1700.4 513.03 1702.66 514 1704.91 514.38C1707.17 514.77 1709.2 515.49 1711.68 515.33C1714.16 515.17 1716.87 514.43 1719.8 513.43C1722.73 512.44 1725.89 510.46 1729.28 509.37C1732.66 508.29 1736.72 507.12 1740.11 506.94C1743.49 506.76 1746.65 507.73 1749.58 508.29C1752.51 508.86 1754.88 509.76 1757.7 510.32C1760.52 510.89 1765.04 511.45 1766.5 511.68" fill="none" stroke="#9393ea" stroke-width="12.2" stroke-linejoin="round"/>
<g fill="rgba(0,0,0,0.135)">
<ellipse cx="1581.8" cy="436.9" rx="7.4" ry="7.4"/>
<ellipse cx="1581.8" cy="464.8" rx="5.3" ry="20.6"/>
<ellipse cx="1581.8" cy="495.7" rx="4" ry="10.6"/>
<ellipse cx="1581.8" cy="517.1" rx="4" ry="11.2"/>
<ellipse cx="1585.4" cy="529.1" rx="8.2" ry="2.7"/>
<ellipse cx="1672" cy="466.2" rx="7.4" ry="7.4"/>
<ellipse cx="1662.2" cy="489.7" rx="5.3" ry="19.9" transform="rotate(31 1662.2 489.7)"/>
<ellipse cx="1664.4" cy="507" rx="11.1" ry="4.1" transform="rotate(3 1664.4 507)"/>
<ellipse cx="1669.3" cy="518.6" rx="3.9" ry="10.3" transform="rotate(25 1669.3 518.6)"/>
<ellipse cx="1669.2" cy="529.7" rx="8.1" ry="2.7"/>
<ellipse cx="1755" cy="436.9" rx="7.4" ry="7.4"/>
<ellipse cx="1755" cy="464.8" rx="5.3" ry="20.6"/>
<ellipse cx="1755" cy="495.7" rx="4" ry="10.6"/>
<ellipse cx="1755" cy="517.1" rx="4" ry="11.2"/>
<ellipse cx="1758.6" cy="529.1" rx="8.2" ry="2.7"/>
</g>
<path d="M1574.1 601.9 V707.5 H1766.7" fill="none" stroke="#1c1c1c" stroke-width="1.6" stroke-linejoin="miter"/>
<line x1="1574.1" y1="601.9" x2="1576.9" y2="601.9" stroke="#1c1c1c" stroke-width="1.2" />
<line x1="1574.1" y1="654.7" x2="1576.9" y2="654.7" stroke="#1c1c1c" stroke-width="1.2" />
<line x1="1670.4" y1="707.5" x2="1670.4" y2="704.7" stroke="#1c1c1c" stroke-width="1.2" />
<line x1="1766.7" y1="708.3" x2="1766.7" y2="704.7" stroke="#1c1c1c" stroke-width="1.2" />
<path d="M1576.05 698.53C1577.22 698.08 1580.56 697.41 1583.08 695.83C1585.61 694.25 1588.5 691.77 1591.21 689.06C1593.91 686.35 1596.62 682.97 1599.33 679.58C1602.04 676.2 1604.74 671.69 1607.45 668.75C1610.16 665.82 1612.86 662.78 1615.57 661.99C1618.28 661.2 1620.76 662.89 1623.69 664.02C1626.63 665.14 1630.01 667.18 1633.17 668.75C1636.33 670.33 1639.71 672.03 1642.64 673.49C1645.58 674.96 1648.06 677.33 1650.77 677.55C1653.47 677.78 1656.18 676.31 1658.89 674.85C1661.6 673.38 1664.53 671.35 1667.01 668.75C1669.49 666.16 1671.75 662.1 1673.78 659.28C1675.81 656.46 1677.39 653.57 1679.19 651.83C1681 650.1 1682.8 648.86 1684.61 648.86C1686.41 648.86 1687.77 650.1 1690.02 651.83C1692.28 653.57 1694.99 656.46 1698.14 659.28C1701.3 662.1 1705.36 665.82 1708.97 668.75C1712.58 671.69 1716.42 674.51 1719.8 676.88C1723.19 679.25 1726.12 681.28 1729.28 682.97C1732.44 684.66 1735.37 686.01 1738.75 687.03C1742.14 688.04 1746.2 688.27 1749.58 689.06C1752.97 689.85 1756.24 690.86 1759.06 691.77C1761.88 692.67 1765.26 694.02 1766.5 694.47" fill="none" stroke="#9393ea" stroke-width="12.2" stroke-linejoin="round"/>
<g fill="rgba(0,0,0,0.135)">
<ellipse cx="1581.8" cy="610.6" rx="7.4" ry="7.4"/>
<ellipse cx="1581.8" cy="638.5" rx="5.3" ry="20.6"/>
<ellipse cx="1581.8" cy="669.4" rx="4" ry="10.6"/>
<ellipse cx="1581.8" cy="690.8" rx="4" ry="11.2"/>
<ellipse cx="1585.4" cy="702.8" rx="8.2" ry="2.7"/>
<ellipse cx="1672" cy="639.9" rx="7.4" ry="7.4"/>
<ellipse cx="1662.2" cy="663.4" rx="5.3" ry="19.9" transform="rotate(31 1662.2 663.4)"/>
<ellipse cx="1664.4" cy="680.7" rx="11.1" ry="4.1" transform="rotate(3 1664.4 680.7)"/>
<ellipse cx="1669.3" cy="692.3" rx="3.9" ry="10.3" transform="rotate(25 1669.3 692.3)"/>
<ellipse cx="1669.2" cy="703.4" rx="8.1" ry="2.7"/>
<ellipse cx="1755" cy="610.6" rx="7.4" ry="7.4"/>
<ellipse cx="1755" cy="638.5" rx="5.3" ry="20.6"/>
<ellipse cx="1755" cy="669.4" rx="4" ry="10.6"/>
<ellipse cx="1755" cy="690.8" rx="4" ry="11.2"/>
<ellipse cx="1758.6" cy="702.8" rx="8.2" ry="2.7"/>
</g>
<path d="M1574.1 775.3 V880.9 H1766.7" fill="none" stroke="#1c1c1c" stroke-width="1.6" stroke-linejoin="miter"/>
<line x1="1574.1" y1="775.3" x2="1576.9" y2="775.3" stroke="#1c1c1c" stroke-width="1.2" />
<line x1="1574.1" y1="828.1" x2="1576.9" y2="828.1" stroke="#1c1c1c" stroke-width="1.2" />
<line x1="1670.4" y1="880.9" x2="1670.4" y2="878.1" stroke="#1c1c1c" stroke-width="1.2" />
<line x1="1766.7" y1="881.7" x2="1766.7" y2="878.1" stroke="#1c1c1c" stroke-width="1.2" />
<path d="M1576.32 862.38C1577.67 863.28 1581.73 866.33 1584.44 867.8C1587.15 869.26 1589.85 870.21 1592.56 871.18C1595.27 872.15 1598.2 873.28 1600.68 873.62C1603.16 873.96 1605.19 874.29 1607.45 873.21C1609.71 872.13 1611.96 870.05 1614.22 867.12C1616.47 864.19 1618.73 858.32 1620.99 855.61C1623.24 852.91 1625.5 850.88 1627.75 850.88C1630.01 850.88 1632.27 853.58 1634.52 855.61C1636.78 857.64 1638.81 861.41 1641.29 863.06C1643.77 864.71 1646.71 865.04 1649.41 865.5C1652.12 865.95 1654.83 865.38 1657.53 865.77C1660.24 866.15 1662.72 866.78 1665.66 867.8C1668.59 868.81 1672.2 870.62 1675.13 871.86C1678.06 873.1 1680.77 874.45 1683.25 875.24C1685.74 876.03 1687.77 876.71 1690.02 876.6C1692.28 876.48 1694.31 875.69 1696.79 874.57C1699.27 873.44 1701.98 871.63 1704.91 869.83C1707.84 868.02 1711.45 865.77 1714.39 863.74C1717.32 861.71 1719.8 859.29 1722.51 857.64C1725.22 856 1727.7 854.76 1730.63 853.85C1733.56 852.95 1736.95 852.73 1740.11 852.23C1743.27 851.73 1746.65 851.44 1749.58 850.88C1752.51 850.31 1754.95 849.34 1757.7 848.85C1760.46 848.35 1764.7 848.06 1766.1 847.9" fill="none" stroke="#9393ea" stroke-width="12.2" stroke-linejoin="round"/>
<g fill="rgba(0,0,0,0.135)">
<ellipse cx="1579.6" cy="784" rx="7.4" ry="7.4"/>
<ellipse cx="1579.6" cy="811.9" rx="5.3" ry="20.6"/>
<ellipse cx="1579.6" cy="842.8" rx="4" ry="10.6"/>
<ellipse cx="1579.6" cy="864.2" rx="4" ry="11.2"/>
<ellipse cx="1583.2" cy="876.2" rx="8.2" ry="2.7"/>
<ellipse cx="1669.8" cy="813.3" rx="7.4" ry="7.4"/>
<ellipse cx="1660" cy="836.8" rx="5.3" ry="19.9" transform="rotate(31 1660 836.8)"/>
<ellipse cx="1662.2" cy="854.1" rx="11.1" ry="4.1" transform="rotate(3 1662.2 854.1)"/>
<ellipse cx="1667.1" cy="865.7" rx="3.9" ry="10.3" transform="rotate(25 1667.1 865.7)"/>
<ellipse cx="1667" cy="876.8" rx="8.1" ry="2.7"/>
<ellipse cx="1750.4" cy="784" rx="7.4" ry="7.4"/>
<ellipse cx="1750.4" cy="811.9" rx="5.3" ry="20.6"/>
<ellipse cx="1750.4" cy="842.8" rx="4" ry="10.6"/>
<ellipse cx="1750.4" cy="864.2" rx="4" ry="11.2"/>
<ellipse cx="1754" cy="876.2" rx="8.2" ry="2.7"/>
</g>
<path d="M1574.1 949.3 V1054.9 H1766.7" fill="none" stroke="#1c1c1c" stroke-width="1.6" stroke-linejoin="miter"/>
<line x1="1574.1" y1="949.3" x2="1576.9" y2="949.3" stroke="#1c1c1c" stroke-width="1.2" />
<line x1="1574.1" y1="1002.1" x2="1576.9" y2="1002.1" stroke="#1c1c1c" stroke-width="1.2" />
<line x1="1670.4" y1="1054.9" x2="1670.4" y2="1052.1" stroke="#1c1c1c" stroke-width="1.2" />
<line x1="1766.7" y1="1055.7" x2="1766.7" y2="1052.1" stroke="#1c1c1c" stroke-width="1.2" />
<line x1="1574.1" y1="949.3" x2="1766.7" y2="1054.9" stroke="#202020" stroke-width="2.7" stroke-linecap="round"/>
<line x1="1574.1" y1="1054.9" x2="1766.7" y2="949.3" stroke="#202020" stroke-width="2.7" stroke-linecap="round"/>
<text transform="translate(1576.3 1080.32) scale(0.94 1)" font-size="23.6" text-anchor="middle">0</text>
<g transform="translate(1733.19 1080.32) scale(0.95 1)"><text font-size="23.6">100</text><rect x="0.47" y="-2.76" width="5.46" height="5.36" fill="#fff"/><rect x="8.02" y="-2.76" width="4.96" height="5.36" fill="#fff"/></g>
<text x="1365.0" y="1136.6" font-size="30.5" font-family="&quot;DejaVu Sans Condensed&quot;, &quot;DejaVu Sans&quot;, &quot;Liberation Sans&quot;, sans-serif" textLength="205" lengthAdjust="spacingAndGlyphs">Squat cycle(%)</text>
<line x1="349.3" y1="1104.2" x2="889.8" y2="1104.2" stroke="#303030" stroke-width="1.5" />
<line x1="382.5" y1="1104.2" x2="382.5" y2="1115" stroke="#262626" stroke-width="1.3" />
<text transform="translate(381.5 1143.8) scale(0.897 1)" font-size="30.5" text-anchor="middle">SOL</text>
<line x1="450.32" y1="1104.2" x2="450.32" y2="1115" stroke="#262626" stroke-width="1.3" />
<text transform="translate(449 1143.8) scale(0.897 1)" font-size="30.5" text-anchor="middle">GAS</text>
<line x1="518.14" y1="1104.2" x2="518.14" y2="1115" stroke="#262626" stroke-width="1.3" />
<text transform="translate(519.2 1143.8) scale(0.897 1)" font-size="30.5" text-anchor="middle">TA</text>
<line x1="585.96" y1="1104.2" x2="585.96" y2="1115" stroke="#262626" stroke-width="1.3" />
<text transform="translate(585.9 1143.8) scale(0.897 1)" font-size="30.5" text-anchor="middle">RF</text>
<line x1="653.78" y1="1104.2" x2="653.78" y2="1115" stroke="#262626" stroke-width="1.3" />
<text transform="translate(653.2 1143.8) scale(0.897 1)" font-size="30.5" text-anchor="middle">VM</text>
<line x1="721.6" y1="1104.2" x2="721.6" y2="1115" stroke="#262626" stroke-width="1.3" />
<text transform="translate(723.1 1143.8) scale(0.897 1)" font-size="30.5" text-anchor="middle">VL</text>
<line x1="789.42" y1="1104.2" x2="789.42" y2="1115" stroke="#262626" stroke-width="1.3" />
<text transform="translate(791.4 1143.8) scale(0.897 1)" font-size="30.5" text-anchor="middle">BF</text>
<line x1="857.24" y1="1104.2" x2="857.24" y2="1115" stroke="#262626" stroke-width="1.3" />
<text transform="translate(859.6 1143.8) scale(0.897 1)" font-size="30.5" text-anchor="middle">ST</text>
</svg>
</body>
</html>
